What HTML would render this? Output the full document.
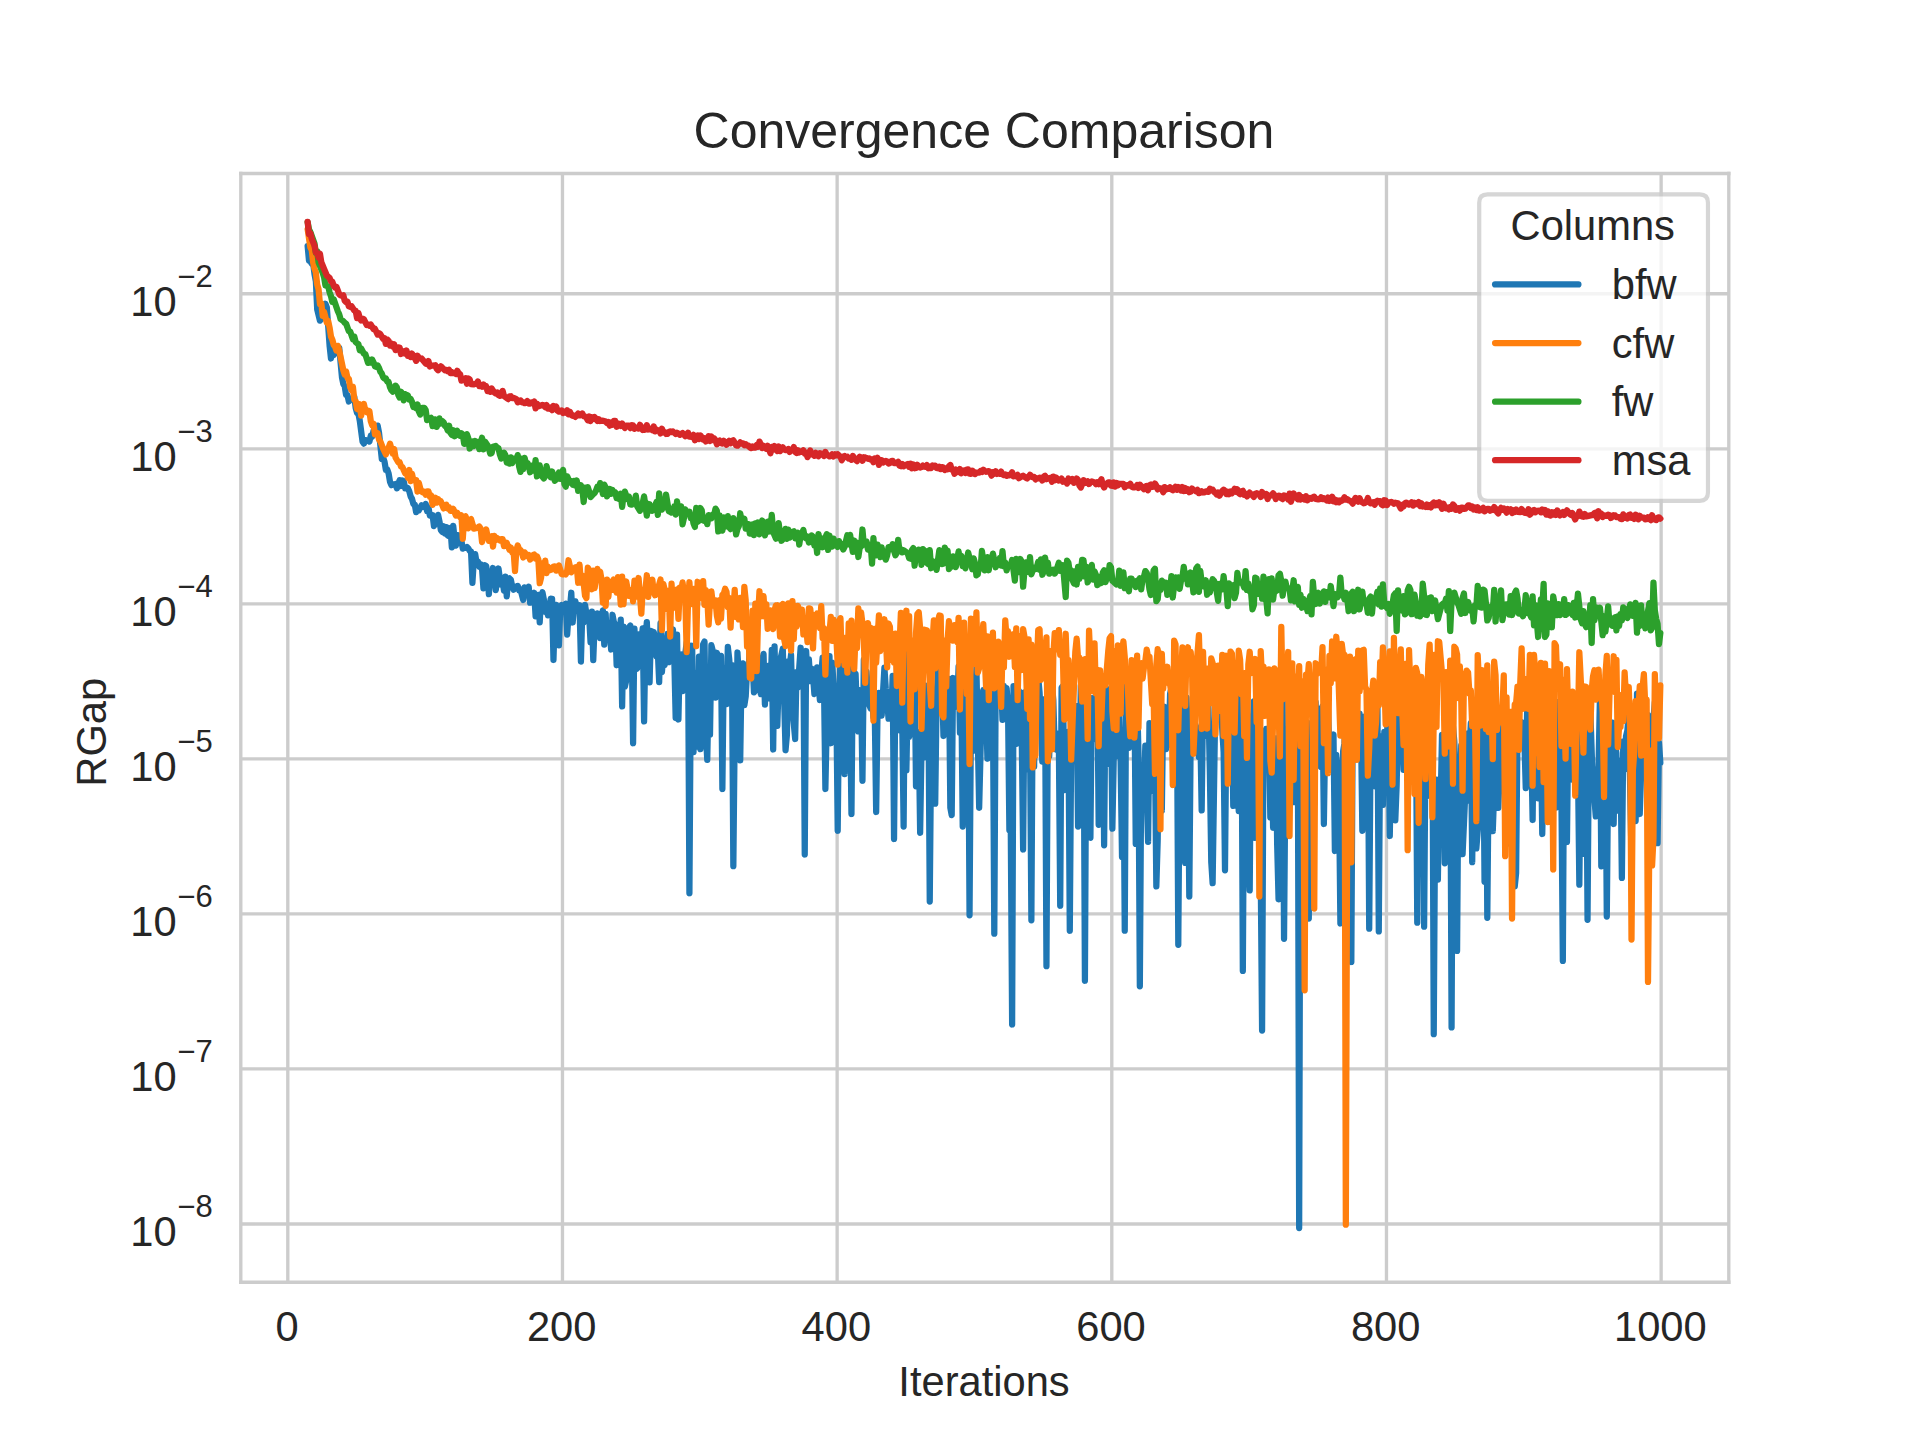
<!DOCTYPE html>
<html><head><meta charset="utf-8"><title>Convergence Comparison</title>
<style>html,body{margin:0;padding:0;background:#fff;width:1920px;height:1440px;overflow:hidden}svg{display:block}</style>
</head><body>
<svg width="1920" height="1440" viewBox="0 0 460.8 345.6">
<defs>
<style type="text/css">*{stroke-linejoin: round; stroke-linecap: butt}</style>
</defs>
<g id="figure_1">
<g id="patch_1">
<path d="M 0 345.6 L 460.8 345.6 L 460.8 0 L 0 0 z
" style="fill: #ffffff"/>
</g>
<g id="axes_1">
<g id="patch_2">
<path d="M 57.6 307.58 L 414.72 307.58 L 414.72 41.47 L 57.6 41.47 z
" style="fill: #ffffff"/>
</g>
<g id="matplotlib.axis_1">
<g id="xtick_1">
<g id="line2d_1">
<path transform="translate(0.192 0.168)" d="M 68.88 307.58 L 68.88 41.47 " clip-path="url(#p02d3b5d28d)" style="fill: none; stroke: #cccccc; stroke-width: 0.8; stroke-linecap: round"/>
</g>
<g id="text_1">
<text style="font-size: 10px; font-family: 'Liberation Sans', sans-serif; text-anchor: middle; fill: #262626" x="68.88" y="321.83" transform="rotate(-0 68.88 321.83)">0</text>
</g>
</g>
<g id="xtick_2">
<g id="line2d_2">
<path transform="translate(0.192 0.168)" d="M 134.80 307.58 L 134.80 41.47 " clip-path="url(#p02d3b5d28d)" style="fill: none; stroke: #cccccc; stroke-width: 0.8; stroke-linecap: round"/>
</g>
<g id="text_2">
<text style="font-size: 10px; font-family: 'Liberation Sans', sans-serif; text-anchor: middle; fill: #262626" x="134.80" y="321.83" transform="rotate(-0 134.80 321.83)">200</text>
</g>
</g>
<g id="xtick_3">
<g id="line2d_3">
<path transform="translate(0.192 0.168)" d="M 200.72 307.58 L 200.72 41.47 " clip-path="url(#p02d3b5d28d)" style="fill: none; stroke: #cccccc; stroke-width: 0.8; stroke-linecap: round"/>
</g>
<g id="text_3">
<text style="font-size: 10px; font-family: 'Liberation Sans', sans-serif; text-anchor: middle; fill: #262626" x="200.72" y="321.83" transform="rotate(-0 200.72 321.83)">400</text>
</g>
</g>
<g id="xtick_4">
<g id="line2d_4">
<path transform="translate(0.192 0.168)" d="M 266.64 307.58 L 266.64 41.47 " clip-path="url(#p02d3b5d28d)" style="fill: none; stroke: #cccccc; stroke-width: 0.8; stroke-linecap: round"/>
</g>
<g id="text_4">
<text style="font-size: 10px; font-family: 'Liberation Sans', sans-serif; text-anchor: middle; fill: #262626" x="266.64" y="321.83" transform="rotate(-0 266.64 321.83)">600</text>
</g>
</g>
<g id="xtick_5">
<g id="line2d_5">
<path transform="translate(0.192 0.168)" d="M 332.56 307.58 L 332.56 41.47 " clip-path="url(#p02d3b5d28d)" style="fill: none; stroke: #cccccc; stroke-width: 0.8; stroke-linecap: round"/>
</g>
<g id="text_5">
<text style="font-size: 10px; font-family: 'Liberation Sans', sans-serif; text-anchor: middle; fill: #262626" x="332.56" y="321.83" transform="rotate(-0 332.56 321.83)">800</text>
</g>
</g>
<g id="xtick_6">
<g id="line2d_6">
<path transform="translate(0.192 0.168)" d="M 398.48 307.58 L 398.48 41.47 " clip-path="url(#p02d3b5d28d)" style="fill: none; stroke: #cccccc; stroke-width: 0.8; stroke-linecap: round"/>
</g>
<g id="text_6">
<text style="font-size: 10px; font-family: 'Liberation Sans', sans-serif; text-anchor: middle; fill: #262626" x="398.48" y="321.83" transform="rotate(-0 398.48 321.83)">1000</text>
</g>
</g>
<g id="text_7">
<text style="font-size: 10px; font-family: 'Liberation Sans', sans-serif; text-anchor: middle; fill: #262626" x="236.16" y="335.15" transform="rotate(-0 236.16 335.15)">Iterations</text>
</g>
</g>
<g id="matplotlib.axis_2">
<g id="ytick_1">
<g id="line2d_7">
<path transform="translate(0.192 0.168)" d="M 57.6 293.59 L 414.72 293.59 " clip-path="url(#p02d3b5d28d)" style="fill: none; stroke: #cccccc; stroke-width: 0.8; stroke-linecap: round"/>
</g>
</g>
<g id="ytick_2">
<g id="line2d_8">
<path transform="translate(0.192 0.168)" d="M 57.6 256.38 L 414.72 256.38 " clip-path="url(#p02d3b5d28d)" style="fill: none; stroke: #cccccc; stroke-width: 0.8; stroke-linecap: round"/>
</g>
</g>
<g id="ytick_3">
<g id="line2d_9">
<path transform="translate(0.192 0.168)" d="M 57.6 219.17 L 414.72 219.17 " clip-path="url(#p02d3b5d28d)" style="fill: none; stroke: #cccccc; stroke-width: 0.8; stroke-linecap: round"/>
</g>
</g>
<g id="ytick_4">
<g id="line2d_10">
<path transform="translate(0.192 0.168)" d="M 57.6 181.96 L 414.72 181.96 " clip-path="url(#p02d3b5d28d)" style="fill: none; stroke: #cccccc; stroke-width: 0.8; stroke-linecap: round"/>
</g>
</g>
<g id="ytick_5">
<g id="line2d_11">
<path transform="translate(0.192 0.168)" d="M 57.6 144.76 L 414.72 144.76 " clip-path="url(#p02d3b5d28d)" style="fill: none; stroke: #cccccc; stroke-width: 0.8; stroke-linecap: round"/>
</g>
</g>
<g id="ytick_6">
<g id="line2d_12">
<path transform="translate(0.192 0.168)" d="M 57.6 107.55 L 414.72 107.55 " clip-path="url(#p02d3b5d28d)" style="fill: none; stroke: #cccccc; stroke-width: 0.8; stroke-linecap: round"/>
</g>
</g>
<g id="ytick_7">
<g id="line2d_13">
<path transform="translate(0.192 0.168)" d="M 57.6 70.34 L 414.72 70.34 " clip-path="url(#p02d3b5d28d)" style="fill: none; stroke: #cccccc; stroke-width: 0.8; stroke-linecap: round"/>
</g>
</g>
<g id="ytick_8"/>
<g id="ytick_9"/>
<g id="ytick_10"/>
<g id="ytick_11"/>
<g id="ytick_12"/>
<g id="ytick_13"/>
<g id="ytick_14"/>
<g id="ytick_15"/>
<g id="ytick_16"/>
<g id="ytick_17"/>
<g id="ytick_18"/>
<g id="ytick_19"/>
<g id="ytick_20"/>
<g id="ytick_21"/>
<g id="ytick_22"/>
<g id="ytick_23"/>
<g id="ytick_24"/>
<g id="ytick_25"/>
<g id="ytick_26"/>
<g id="ytick_27"/>
<g id="ytick_28"/>
<g id="ytick_29"/>
<g id="ytick_30"/>
<g id="ytick_31"/>
<g id="ytick_32"/>
<g id="ytick_33"/>
<g id="ytick_34"/>
<g id="ytick_35"/>
<g id="ytick_36"/>
<g id="ytick_37"/>
<g id="ytick_38"/>
<g id="ytick_39"/>
<g id="ytick_40"/>
<g id="ytick_41"/>
<g id="ytick_42"/>
<g id="ytick_43"/>
<g id="ytick_44"/>
<g id="ytick_45"/>
<g id="ytick_46"/>
<g id="ytick_47"/>
<g id="ytick_48"/>
<g id="ytick_49"/>
<g id="ytick_50"/>
<g id="ytick_51"/>
<g id="ytick_52"/>
<g id="ytick_53"/>
<g id="ytick_54"/>
<g id="ytick_55"/>
<g id="ytick_56"/>
<g id="ytick_57"/>
<g id="ytick_58"/>
<g id="ytick_59"/>
<g id="ytick_60"/>
<g id="ytick_61"/>
<g id="ytick_62"/>
<g id="ytick_63"/>
<g id="ytick_64"/>
<g id="text_8">
<text style="font-size: 10px; font-family: 'Liberation Sans', sans-serif; text-anchor: middle; fill: #262626" x="25.505" y="175.728" transform="rotate(-90 25.505 175.728)">RGap</text>
</g>
</g>
<g id="line2d_14">
<path d="M 73.83 59.04 L 74.16 62.58 L 74.49 62.74 L 74.82 63.30 L 75.15 63.15 L 75.48 65.81 L 75.81 67.54 L 76.13 74.30 L 76.79 76.96 L 77.45 75.84 L 77.78 76.31 L 78.11 72.90 L 78.44 73.77 L 79.10 82.95 L 79.43 86.04 L 79.76 84.05 L 80.09 85.21 L 80.42 84.63 L 81.08 84.01 L 81.41 83.43 L 82.07 90.56 L 82.40 92.18 L 82.73 92.68 L 83.06 94.78 L 83.39 94.83 L 83.72 96.36 L 84.05 95.91 L 84.37 95.86 L 85.03 95.23 L 85.36 97.91 L 85.69 99.13 L 86.02 99.27 L 86.35 100.99 L 87.01 106.00 L 87.34 106.46 L 87.67 105.58 L 88.00 105.85 L 88.33 105.69 L 88.66 105.97 L 88.99 104.58 L 89.32 104.79 L 89.65 103.40 L 89.98 103.18 L 90.31 103.38 L 90.64 102.15 L 90.97 103.88 L 91.63 110.14 L 91.96 109.85 L 92.29 110.84 L 92.61 112.77 L 92.94 112.67 L 93.27 113.62 L 93.60 115.63 L 93.93 116.44 L 94.26 116.23 L 94.59 116.34 L 94.92 116.18 L 95.25 117.21 L 95.91 115.27 L 96.24 116.63 L 96.57 115.33 L 96.90 115.51 L 97.23 117.22 L 97.56 116.98 L 97.89 117.18 L 98.22 117.90 L 98.55 119.13 L 98.88 119.73 L 99.21 120.97 L 99.54 121.06 L 99.87 122.91 L 100.20 122.17 L 100.53 122.47 L 101.18 121.27 L 101.51 121.66 L 101.84 121.69 L 102.17 120.94 L 102.50 122.65 L 102.83 121.77 L 103.16 123.73 L 103.49 123.57 L 103.82 123.61 L 104.15 126.26 L 104.48 125.50 L 104.81 125.34 L 105.14 123.57 L 105.47 125.12 L 105.80 127.22 L 106.13 127.64 L 106.46 126.28 L 106.79 128.05 L 107.12 126.50 L 107.45 128.51 L 107.78 128.68 L 108.11 126.70 L 108.44 131.36 L 108.77 126.22 L 109.09 129.20 L 109.42 130.94 L 109.75 128.41 L 110.08 128.47 L 110.41 128.75 L 110.74 129.81 L 111.07 131.67 L 111.40 131.40 L 111.73 131.50 L 112.06 131.26 L 112.39 131.60 L 112.72 132.21 L 113.05 132.37 L 113.38 139.89 L 113.71 134.53 L 114.04 132.99 L 114.37 135.02 L 114.70 134.79 L 115.03 136.02 L 115.36 135.44 L 115.69 136.52 L 116.02 141.19 L 116.35 135.63 L 116.68 135.81 L 117.01 137.95 L 117.33 142.60 L 117.66 137.47 L 117.99 139.59 L 118.32 136.32 L 118.65 138.06 L 118.98 141.62 L 119.64 136.44 L 119.97 138.90 L 120.30 140.34 L 120.63 139.51 L 120.96 141.78 L 121.29 138.41 L 121.62 143.12 L 121.95 139.14 L 122.28 138.82 L 122.61 139.14 L 122.94 140.78 L 123.27 141.54 L 123.60 140.95 L 124.26 140.62 L 124.59 141.67 L 124.92 141.48 L 125.57 143.99 L 125.90 140.97 L 126.23 142.01 L 126.56 141.75 L 126.89 140.80 L 127.22 144.65 L 127.55 144.55 L 127.88 144.18 L 128.21 142.25 L 128.54 147.91 L 129.20 142.75 L 129.53 149.35 L 129.86 143.15 L 130.19 142.14 L 130.52 143.85 L 130.85 146.83 L 131.18 145.88 L 131.51 147.68 L 132.17 143.69 L 132.50 143.71 L 132.83 158.40 L 133.16 147.72 L 133.49 145.15 L 133.81 146.76 L 134.14 154.90 L 134.47 145.72 L 134.80 145.21 L 135.13 146.41 L 135.46 146.68 L 135.79 144.86 L 136.12 152.30 L 136.45 147.63 L 136.78 146.11 L 137.11 142.26 L 137.44 149.40 L 137.77 145.70 L 138.10 144.33 L 138.43 145.92 L 138.76 145.83 L 139.09 145.27 L 139.42 158.77 L 139.75 146.80 L 140.08 149.41 L 140.41 145.18 L 140.74 147.26 L 141.40 148.06 L 141.73 154.15 L 142.05 146.78 L 142.38 158.45 L 142.71 149.79 L 143.04 150.48 L 143.37 147.23 L 143.70 149.66 L 144.03 153.13 L 144.36 148.29 L 144.69 146.48 L 145.02 154.73 L 145.35 147.31 L 145.68 153.15 L 146.01 151.54 L 146.34 151.61 L 146.67 155.88 L 147.00 147.54 L 147.33 149.31 L 147.66 149.86 L 147.99 159.66 L 148.32 150.00 L 148.65 156.07 L 148.98 148.72 L 149.31 169.53 L 149.64 150.39 L 149.96 164.81 L 150.29 163.33 L 150.62 152.20 L 150.95 150.59 L 151.28 150.11 L 151.61 154.99 L 151.94 178.38 L 152.27 150.89 L 152.60 160.61 L 152.93 160.43 L 153.26 152.26 L 153.59 152.58 L 153.92 153.90 L 154.25 150.80 L 154.58 173.15 L 154.91 152.99 L 155.24 149.29 L 155.90 163.76 L 156.23 151.42 L 156.56 153.27 L 156.89 151.67 L 157.22 153.04 L 157.55 157.50 L 157.88 156.46 L 158.20 163.71 L 158.53 149.53 L 158.86 161.30 L 159.19 157.57 L 159.52 159.64 L 159.85 154.64 L 160.18 152.16 L 160.51 158.93 L 160.84 154.93 L 161.17 154.16 L 161.50 151.02 L 161.83 157.89 L 162.16 172.32 L 162.49 152.33 L 162.82 172.68 L 163.15 157.37 L 163.48 157.07 L 163.81 165.87 L 164.14 158.60 L 164.47 156.89 L 164.80 154.17 L 165.13 154.80 L 165.46 214.38 L 165.79 164.58 L 166.12 154.98 L 166.44 180.54 L 166.77 161.48 L 167.10 168.00 L 167.43 179.21 L 167.76 157.57 L 168.09 179.79 L 168.42 162.63 L 168.75 154.67 L 169.08 153.98 L 169.41 176.15 L 169.74 182.38 L 170.07 165.47 L 170.40 176.33 L 170.73 154.84 L 171.39 157.44 L 171.72 167.42 L 172.05 156.66 L 172.38 158.81 L 172.71 159.89 L 173.04 157.43 L 173.37 189.36 L 173.70 160.26 L 174.03 162.38 L 174.36 169.01 L 174.68 155.26 L 175.01 158.10 L 175.34 162.86 L 175.67 159.65 L 176.00 207.89 L 176.33 175.54 L 176.66 181.71 L 176.99 156.60 L 177.32 162.28 L 177.65 182.49 L 177.98 160.61 L 178.31 159.20 L 178.64 169.24 L 178.97 167.16 L 179.30 160.85 L 179.63 161.45 L 179.96 155.18 L 180.29 156.32 L 180.62 158.97 L 180.95 166.18 L 181.28 165.72 L 181.61 164.75 L 181.94 161.93 L 182.60 166.58 L 182.92 158.56 L 183.25 156.94 L 183.58 169.11 L 183.91 159.94 L 184.24 159.83 L 184.57 166.60 L 184.90 167.74 L 185.23 155.98 L 185.56 179.88 L 185.89 155.11 L 186.22 168.68 L 186.55 174.22 L 186.88 164.04 L 187.21 158.63 L 187.87 155.67 L 188.53 180.06 L 188.86 176.40 L 189.19 158.73 L 189.52 159.98 L 189.85 157.14 L 190.18 170.10 L 190.84 177.36 L 191.16 161.34 L 191.49 164.99 L 192.15 155.46 L 192.48 162.10 L 192.81 156.64 L 193.14 205.08 L 193.47 156.24 L 193.80 162.21 L 194.13 158.24 L 194.46 163.46 L 194.79 160.44 L 195.12 162.20 L 195.45 166.57 L 196.11 160.18 L 196.77 168.00 L 197.10 161.52 L 197.43 157.84 L 197.76 164.39 L 198.09 189.36 L 198.42 173.45 L 199.08 157.45 L 199.40 178.38 L 199.73 159.02 L 200.39 170.52 L 200.72 168.79 L 201.05 199.38 L 201.38 168.21 L 201.71 158.51 L 202.04 156.71 L 202.37 174.48 L 202.70 185.81 L 203.03 170.86 L 203.36 161.77 L 203.69 175.60 L 204.02 170.83 L 204.35 195.36 L 204.68 158.83 L 205.01 161.40 L 205.34 161.71 L 205.67 170.99 L 206.00 175.54 L 206.33 165.61 L 206.66 166.14 L 206.99 187.38 L 207.32 158.32 L 207.64 161.65 L 207.97 161.18 L 208.30 166.51 L 208.63 169.21 L 208.96 170.04 L 209.29 166.48 L 209.62 172.12 L 209.95 171.67 L 210.28 194.88 L 210.61 170.51 L 210.94 166.30 L 211.60 171.74 L 212.26 160.24 L 212.59 165.36 L 212.92 168.14 L 213.25 172.49 L 213.58 166.05 L 213.91 171.68 L 214.24 162.19 L 214.57 201.36 L 214.90 162.57 L 215.23 174.32 L 215.56 174.53 L 215.88 175.24 L 216.21 161.61 L 216.54 173.45 L 216.87 198.38 L 217.20 156.63 L 217.53 184.91 L 217.86 167.38 L 218.19 176.88 L 218.52 175.00 L 218.85 163.76 L 219.18 170.23 L 219.51 158.48 L 219.84 188.72 L 220.17 177.10 L 220.50 175.68 L 220.83 199.87 L 221.16 179.90 L 221.49 168.91 L 221.82 181.76 L 222.15 164.52 L 222.48 176.67 L 222.81 167.04 L 223.14 216.38 L 223.47 179.59 L 223.80 167.80 L 224.12 167.92 L 224.45 192.89 L 224.78 168.12 L 225.11 160.10 L 225.44 166.96 L 225.77 164.92 L 226.10 164.35 L 226.43 176.64 L 226.76 163.30 L 227.09 165.87 L 227.42 174.03 L 227.75 162.95 L 228.08 193.87 L 228.41 195.64 L 228.74 162.72 L 229.07 163.20 L 229.40 165.78 L 229.73 169.56 L 230.06 159.94 L 230.39 175.93 L 230.72 166.63 L 231.05 198.38 L 231.38 170.38 L 231.71 165.08 L 232.04 196.50 L 232.36 165.01 L 232.69 219.67 L 233.02 172.40 L 233.35 180.34 L 233.68 177.30 L 234.34 160.11 L 235.00 193.87 L 235.66 167.08 L 235.99 165.62 L 236.32 166.60 L 236.65 169.86 L 236.98 182.10 L 237.31 163.13 L 237.64 173.26 L 237.97 166.61 L 238.30 168.90 L 238.63 224.09 L 238.96 164.39 L 239.29 168.58 L 239.62 159.68 L 240.27 164.08 L 240.60 172.75 L 240.93 164.61 L 241.26 167.30 L 241.59 165.16 L 241.92 169.36 L 242.25 199.24 L 242.58 198.24 L 242.91 245.88 L 243.24 164.68 L 243.90 178.55 L 244.56 165.89 L 244.89 176.46 L 245.22 177.26 L 245.55 203.88 L 245.88 166.15 L 246.21 184.63 L 246.54 175.40 L 246.87 171.05 L 247.20 176.26 L 247.53 220.87 L 247.86 165.49 L 248.19 183.98 L 248.51 160.02 L 248.84 168.25 L 249.17 162.62 L 249.50 166.21 L 249.83 172.84 L 250.16 182.77 L 250.49 169.39 L 250.82 167.72 L 251.15 231.89 L 251.48 171.56 L 251.81 181.50 L 252.14 168.22 L 252.47 164.30 L 252.80 168.04 L 253.13 179.71 L 253.46 179.90 L 253.79 176.06 L 254.12 177.61 L 254.45 217.38 L 254.78 165.06 L 255.11 164.63 L 255.44 189.61 L 256.10 177.38 L 256.43 175.59 L 256.75 223.38 L 257.08 179.91 L 257.41 170.63 L 257.74 170.83 L 258.07 175.30 L 258.40 169.45 L 258.73 198.37 L 259.06 190.49 L 259.39 164.57 L 259.72 178.06 L 260.05 166.74 L 260.38 235.38 L 260.71 170.03 L 261.04 169.31 L 261.70 201.07 L 262.03 167.53 L 262.36 177.51 L 262.69 177.05 L 263.02 166.39 L 263.35 163.14 L 263.68 197.95 L 264.01 172.51 L 264.34 186.08 L 264.67 166.23 L 264.99 202.87 L 265.32 165.86 L 265.65 183.42 L 265.98 168.57 L 266.31 165.37 L 266.64 169.32 L 266.97 198.89 L 267.30 181.91 L 267.63 181.63 L 267.96 167.86 L 268.29 167.96 L 268.62 171.62 L 268.95 182.92 L 269.28 205.66 L 269.61 176.44 L 269.94 223.37 L 270.27 164.29 L 270.60 168.00 L 270.93 179.49 L 271.26 172.17 L 271.59 174.93 L 271.92 171.31 L 272.25 165.27 L 272.58 202.55 L 272.91 167.63 L 273.23 180.53 L 273.56 236.71 L 273.89 186.93 L 274.22 184.96 L 274.55 189.10 L 274.88 178.95 L 275.54 202.06 L 275.87 173.55 L 276.20 181.22 L 276.53 182.51 L 276.86 189.91 L 277.19 180.21 L 277.52 212.74 L 277.85 201.66 L 278.18 165.79 L 278.51 173.62 L 278.84 194.56 L 279.17 170.37 L 279.50 169.62 L 279.83 179.77 L 280.16 172.23 L 280.49 178.78 L 280.82 166.48 L 281.15 165.03 L 281.47 175.47 L 281.80 175.93 L 282.13 169.69 L 282.46 168.74 L 282.79 226.75 L 283.12 182.43 L 283.45 164.40 L 283.78 173.72 L 284.11 178.20 L 284.44 207.09 L 284.77 167.44 L 285.10 178.16 L 285.43 215.16 L 285.76 177.20 L 286.09 178.90 L 286.42 169.88 L 286.75 173.59 L 287.08 174.45 L 287.41 178.95 L 287.74 181.69 L 288.07 175.34 L 288.40 194.50 L 288.73 168.28 L 289.06 173.87 L 289.39 176.59 L 289.71 164.75 L 290.04 170.12 L 290.37 185.50 L 290.70 206.92 L 291.03 211.97 L 291.69 167.64 L 292.02 170.52 L 292.68 168.81 L 293.01 169.68 L 293.67 180.52 L 294.00 208.87 L 294.33 172.27 L 294.66 174.71 L 294.99 165.67 L 295.32 167.93 L 295.65 167.66 L 295.98 193.43 L 296.31 178.03 L 296.64 169.46 L 296.97 187.17 L 297.30 194.67 L 297.63 165.90 L 297.95 164.80 L 298.28 233.04 L 298.61 178.21 L 298.94 183.77 L 299.27 173.42 L 299.60 202.30 L 299.93 213.70 L 300.26 171.96 L 300.59 175.01 L 300.92 168.32 L 301.25 201.09 L 301.91 167.52 L 302.24 171.43 L 302.90 247.34 L 303.23 177.73 L 303.89 174.92 L 304.22 180.75 L 304.55 177.08 L 304.88 196.17 L 305.21 179.32 L 305.54 198.67 L 305.87 182.04 L 306.19 177.20 L 306.52 202.71 L 306.85 215.83 L 307.18 173.20 L 307.51 175.04 L 307.84 166.49 L 308.17 225.31 L 308.50 185.24 L 308.83 183.25 L 309.16 199.70 L 309.49 180.52 L 309.82 167.90 L 310.15 172.60 L 310.48 192.51 L 310.81 167.02 L 311.14 172.56 L 311.47 172.00 L 311.80 294.72 L 312.13 171.39 L 312.46 172.83 L 312.79 209.55 L 313.12 179.24 L 313.45 173.61 L 313.78 173.40 L 314.11 220.46 L 314.43 179.57 L 314.76 174.22 L 315.09 178.70 L 315.42 193.10 L 315.75 168.51 L 316.08 183.79 L 316.41 170.08 L 316.74 180.13 L 317.07 184.05 L 317.40 169.55 L 317.73 197.76 L 318.06 175.34 L 318.39 174.00 L 318.72 170.24 L 319.05 179.83 L 319.38 178.82 L 319.71 177.02 L 320.04 176.31 L 320.37 204.24 L 320.70 181.19 L 321.03 184.79 L 321.36 190.15 L 321.69 221.64 L 322.02 210.10 L 322.35 180.31 L 322.67 178.37 L 323.00 166.34 L 323.33 183.78 L 323.66 183.39 L 323.99 184.65 L 324.32 230.88 L 324.65 172.41 L 324.98 182.31 L 325.31 166.80 L 325.64 178.23 L 325.97 180.50 L 326.30 171.29 L 326.63 174.30 L 326.96 199.39 L 327.29 179.32 L 327.62 171.95 L 327.95 173.96 L 328.28 168.54 L 328.61 222.89 L 328.94 178.21 L 329.27 178.49 L 329.60 174.10 L 329.93 188.70 L 330.26 175.41 L 330.58 167.70 L 330.91 223.56 L 331.24 176.64 L 331.57 190.29 L 331.90 193.19 L 332.23 175.66 L 332.56 186.98 L 332.89 175.93 L 333.22 169.92 L 333.55 200.64 L 333.88 181.41 L 334.21 171.74 L 334.54 180.67 L 334.87 196.90 L 335.20 188.44 L 335.53 172.17 L 335.86 173.27 L 336.19 177.56 L 336.52 174.43 L 336.85 184.79 L 337.18 173.80 L 337.51 177.64 L 337.84 183.96 L 338.50 180.68 L 339.15 178.17 L 339.48 185.93 L 339.81 169.62 L 340.14 221.45 L 340.47 169.94 L 341.13 191.11 L 341.46 168.42 L 341.79 222.41 L 342.12 179.07 L 342.45 191.08 L 342.78 174.62 L 343.11 174.51 L 343.44 169.30 L 343.77 170.77 L 344.10 248.21 L 344.43 195.55 L 344.76 187.11 L 345.09 211.14 L 345.42 187.78 L 345.75 192.87 L 346.08 176.38 L 346.41 178.27 L 346.74 207.19 L 347.06 176.94 L 347.39 173.76 L 347.72 181.28 L 348.05 173.08 L 348.38 246.58 L 348.71 174.25 L 349.04 177.98 L 349.37 187.08 L 349.70 228.22 L 350.03 182.63 L 350.36 196.34 L 350.69 178.91 L 351.02 204.99 L 351.68 190.18 L 352.01 176.05 L 352.34 192.16 L 352.67 179.77 L 353.00 173.55 L 353.33 206.91 L 353.66 180.34 L 353.99 174.88 L 354.32 203.61 L 354.98 195.40 L 355.30 174.86 L 355.63 174.63 L 355.96 172.63 L 356.29 211.62 L 356.62 166.83 L 356.95 220.27 L 357.28 185.33 L 357.61 187.91 L 357.94 176.67 L 358.27 199.47 L 359.26 170.85 L 359.59 193.90 L 359.92 185.39 L 360.25 180.05 L 360.58 185.69 L 360.91 170.12 L 361.24 178.15 L 361.57 175.91 L 361.90 192.64 L 362.23 202.46 L 362.56 191.55 L 362.89 198.81 L 363.22 195.10 L 363.54 212.74 L 363.87 209.52 L 364.20 175.08 L 364.53 173.43 L 364.86 176.76 L 365.19 173.30 L 365.52 173.83 L 365.85 177.66 L 366.18 189.16 L 366.51 170.69 L 366.84 176.77 L 367.17 185.71 L 367.50 179.87 L 367.83 196.80 L 368.16 168.94 L 368.49 186.98 L 368.82 177.25 L 369.15 191.62 L 369.48 177.35 L 369.81 176.54 L 370.14 200.16 L 370.80 169.79 L 371.13 171.83 L 371.46 175.41 L 371.78 191.76 L 372.11 175.69 L 372.44 178.31 L 372.77 172.54 L 373.10 174.78 L 373.43 193.84 L 373.76 174.57 L 374.09 168.43 L 374.42 174.75 L 374.75 192.32 L 375.08 230.62 L 375.41 172.21 L 375.74 170.81 L 376.07 202.08 L 376.40 171.61 L 376.73 168.92 L 377.06 169.73 L 377.39 187.14 L 378.05 170.19 L 378.38 173.01 L 378.71 183.81 L 379.04 212.31 L 379.37 179.47 L 379.70 205.01 L 380.02 203.63 L 380.35 180.81 L 380.68 170.55 L 381.01 220.75 L 381.34 177.12 L 381.67 170.13 L 382.33 190.32 L 382.66 191.62 L 382.99 195.95 L 383.32 186.22 L 383.65 183.90 L 383.98 167.48 L 384.31 207.91 L 384.64 167.05 L 384.97 199.79 L 385.30 173.62 L 385.63 219.98 L 385.96 184.09 L 386.29 174.42 L 386.62 192.99 L 386.95 173.40 L 387.28 197.76 L 387.61 178.41 L 387.94 180.75 L 388.26 194.56 L 388.59 182.57 L 388.92 182.77 L 389.25 210.70 L 389.58 177.95 L 389.91 184.64 L 390.24 176.67 L 390.57 175.31 L 390.90 171.30 L 391.56 205.79 L 391.89 170.24 L 392.22 172.81 L 392.55 197.05 L 392.88 166.47 L 393.21 171.72 L 393.54 195.36 L 394.20 175.63 L 394.53 184.76 L 394.86 180.14 L 395.19 177.94 L 395.52 171.65 L 395.85 177.49 L 396.18 198.04 L 396.50 194.86 L 396.83 172.68 L 397.16 168.57 L 397.49 169.43 L 397.82 202.35 L 398.15 178.22 L 398.48 183.07 L 398.48 183.07 " clip-path="url(#p02d3b5d28d)" style="fill: none; stroke: #1f77b4; stroke-width: 1.5; stroke-linecap: round"/>
</g>
<g id="line2d_15">
<path d="M 73.83 54.96 L 74.49 59.40 L 74.82 60.03 L 75.15 62.98 L 75.48 64.50 L 75.81 65.41 L 76.13 68.28 L 76.46 69.47 L 76.79 72.97 L 77.12 72.86 L 77.45 75.79 L 77.78 74.87 L 78.44 77.43 L 78.77 77.07 L 79.10 78.61 L 79.43 80.74 L 79.76 81.52 L 80.09 82.76 L 80.42 83.23 L 80.75 84.15 L 81.08 83.00 L 81.41 84.09 L 82.40 88.86 L 82.73 89.89 L 83.06 89.15 L 83.39 90.70 L 83.72 90.92 L 84.05 93.00 L 84.37 93.66 L 84.70 92.81 L 85.03 95.91 L 85.36 96.27 L 85.69 98.16 L 86.02 98.27 L 86.35 97.00 L 86.68 99.76 L 87.01 97.90 L 87.34 96.97 L 87.67 98.50 L 88.00 98.93 L 88.33 98.54 L 88.66 98.68 L 88.99 101.11 L 89.32 102.04 L 89.65 101.69 L 89.98 104.26 L 90.31 103.90 L 90.64 103.93 L 90.97 105.50 L 91.30 106.01 L 91.96 107.68 L 92.61 109.05 L 92.94 107.93 L 93.27 107.45 L 93.60 106.48 L 94.26 108.86 L 94.59 107.74 L 94.92 109.80 L 95.58 110.94 L 95.91 110.92 L 96.24 111.95 L 96.57 112.06 L 97.23 113.55 L 97.56 113.46 L 97.89 114.66 L 98.22 112.80 L 98.55 115.47 L 98.88 113.74 L 99.21 115.24 L 99.87 115.21 L 100.20 117.97 L 100.53 115.91 L 100.85 117.19 L 101.18 117.96 L 101.51 118.17 L 101.84 118.02 L 102.17 118.74 L 102.50 117.93 L 102.83 117.92 L 103.16 119.23 L 103.49 118.95 L 103.82 121.18 L 104.15 120.01 L 104.48 119.45 L 104.81 120.64 L 105.14 119.78 L 105.47 120.48 L 105.80 120.32 L 106.46 122.02 L 106.79 121.26 L 107.12 121.14 L 107.45 122.03 L 107.78 121.77 L 108.11 122.63 L 108.44 122.63 L 108.77 122.11 L 109.42 123.72 L 109.75 123.08 L 110.41 124.11 L 110.74 123.69 L 111.07 129.30 L 111.40 124.19 L 111.73 123.92 L 112.06 124.79 L 112.39 126.81 L 112.72 124.77 L 113.05 124.58 L 113.71 126.87 L 114.70 126.64 L 115.03 126.35 L 115.36 126.86 L 115.69 130.09 L 116.02 127.84 L 116.35 127.94 L 116.68 127.06 L 117.01 128.71 L 117.33 129.79 L 117.66 128.92 L 117.99 128.70 L 118.32 131.18 L 118.65 128.60 L 118.98 129.61 L 119.31 129.14 L 119.97 129.71 L 120.30 129.37 L 120.63 129.40 L 120.96 131.06 L 121.29 130.94 L 121.62 130.27 L 122.28 131.95 L 122.61 131.43 L 122.94 132.60 L 123.27 132.34 L 123.60 137.04 L 123.93 132.01 L 124.26 130.91 L 124.59 131.81 L 124.92 131.98 L 125.25 132.57 L 125.57 133.79 L 125.90 132.57 L 126.56 133.48 L 126.89 133.23 L 127.22 134.31 L 127.55 133.63 L 127.88 133.26 L 128.21 133.09 L 128.54 134.04 L 128.87 133.51 L 129.20 134.28 L 129.53 139.97 L 129.86 138.64 L 130.19 135.16 L 130.52 136.77 L 130.85 134.54 L 131.18 137.53 L 131.51 136.00 L 132.17 136.79 L 132.50 136.66 L 132.83 135.96 L 133.16 135.93 L 133.49 136.96 L 133.81 136.06 L 134.14 135.73 L 134.80 137.75 L 135.13 137.86 L 135.46 137.62 L 135.79 137.84 L 136.12 136.98 L 136.45 134.46 L 137.11 137.38 L 137.44 136.73 L 137.77 136.84 L 138.10 136.16 L 138.43 136.09 L 138.76 139.86 L 139.09 135.51 L 139.42 139.84 L 139.75 138.15 L 140.08 140.02 L 140.41 142.99 L 140.74 143.56 L 141.07 136.25 L 141.40 136.81 L 141.73 140.96 L 142.05 141.43 L 142.38 136.95 L 142.71 141.16 L 143.37 136.52 L 143.70 138.06 L 144.03 137.20 L 144.36 139.01 L 144.69 144.61 L 145.02 141.36 L 145.35 145.39 L 145.68 139.09 L 146.01 143.29 L 146.34 139.57 L 146.67 140.97 L 147.00 141.56 L 147.33 139.08 L 147.66 141.14 L 147.99 142.21 L 148.32 138.50 L 148.65 140.37 L 148.98 145.10 L 149.31 138.37 L 149.64 145.01 L 149.96 140.08 L 150.29 139.58 L 150.95 143.00 L 151.28 141.60 L 151.61 141.74 L 151.94 144.32 L 152.27 139.36 L 152.60 142.69 L 152.93 143.17 L 153.26 138.72 L 153.92 147.27 L 154.25 141.60 L 154.58 141.48 L 154.91 141.50 L 155.24 138.06 L 155.57 143.26 L 155.90 139.19 L 156.23 140.00 L 156.56 139.12 L 156.89 142.19 L 157.22 142.86 L 157.55 142.59 L 158.53 139.09 L 158.86 151.23 L 159.19 140.11 L 159.52 141.51 L 159.85 142.34 L 160.18 146.16 L 160.51 141.74 L 160.84 152.77 L 161.17 140.08 L 161.50 145.98 L 161.83 143.11 L 162.16 143.29 L 162.49 141.48 L 162.82 148.55 L 163.15 141.01 L 163.48 141.94 L 163.81 139.78 L 164.14 142.28 L 164.47 143.48 L 164.80 156.53 L 165.13 144.34 L 165.46 139.74 L 165.79 144.75 L 166.12 144.95 L 166.44 143.78 L 166.77 141.30 L 167.10 155.10 L 167.43 139.62 L 167.76 141.96 L 168.09 141.70 L 168.42 143.62 L 168.75 139.45 L 169.08 145.16 L 169.41 141.60 L 169.74 143.43 L 170.07 149.89 L 170.40 144.25 L 170.73 141.94 L 171.06 144.83 L 171.39 145.38 L 171.72 144.08 L 172.05 147.74 L 172.38 149.38 L 172.71 144.03 L 173.04 148.45 L 173.37 142.77 L 173.70 142.49 L 174.03 141.29 L 174.36 142.01 L 174.68 145.68 L 175.01 143.51 L 175.34 150.65 L 175.67 143.61 L 176.00 146.93 L 176.33 141.57 L 176.66 148.10 L 176.99 144.64 L 177.32 148.66 L 177.65 143.48 L 177.98 143.51 L 178.31 150.50 L 178.64 140.83 L 178.97 144.08 L 179.30 155.17 L 179.63 150.21 L 179.96 162.70 L 180.29 162.82 L 180.62 146.55 L 180.95 160.14 L 181.28 144.88 L 181.61 161.09 L 181.94 147.89 L 182.27 141.90 L 182.60 147.94 L 182.92 146.67 L 183.25 143.08 L 183.58 147.99 L 183.91 145.00 L 184.24 150.91 L 184.90 146.51 L 185.23 147.02 L 185.56 150.97 L 185.89 146.40 L 186.22 145.30 L 186.55 145.26 L 186.88 147.29 L 187.21 152.79 L 187.54 145.34 L 187.87 144.95 L 188.20 153.45 L 188.53 155.07 L 188.86 148.68 L 189.19 144.81 L 189.52 145.25 L 189.85 156.16 L 190.18 144.28 L 190.51 153.39 L 190.84 145.38 L 191.16 150.40 L 191.49 145.39 L 191.82 146.77 L 192.15 149.65 L 192.48 146.30 L 192.81 152.27 L 193.14 150.66 L 193.47 150.40 L 193.80 154.09 L 194.13 146.02 L 194.46 146.08 L 194.79 149.22 L 195.12 155.61 L 195.45 147.65 L 195.78 148.34 L 196.11 147.25 L 196.44 149.64 L 196.77 150.71 L 197.10 145.45 L 197.43 153.16 L 197.76 150.76 L 198.09 161.93 L 198.42 151.92 L 198.75 152.65 L 199.08 151.87 L 199.40 148.06 L 199.73 153.79 L 200.06 148.73 L 200.39 152.43 L 200.72 152.94 L 201.05 159.50 L 201.38 149.04 L 201.71 148.36 L 202.04 158.43 L 202.37 154.47 L 202.70 159.63 L 203.03 153.03 L 203.36 161.42 L 203.69 149.62 L 204.02 151.92 L 204.35 148.97 L 204.68 157.78 L 205.01 160.59 L 205.34 152.00 L 205.67 155.53 L 206.00 146.00 L 206.33 150.71 L 206.66 146.97 L 206.99 149.67 L 207.32 153.81 L 207.64 163.87 L 207.97 153.37 L 208.30 149.53 L 208.63 151.76 L 208.96 150.71 L 209.29 150.85 L 209.62 172.96 L 209.95 150.95 L 210.28 159.00 L 210.94 147.70 L 211.27 156.27 L 211.60 154.17 L 212.26 148.62 L 212.59 152.43 L 212.92 160.16 L 213.25 149.64 L 213.58 150.41 L 213.91 158.34 L 214.24 152.68 L 214.57 159.00 L 214.90 152.07 L 215.23 164.65 L 215.56 163.08 L 216.21 147.11 L 216.54 168.63 L 216.87 151.56 L 217.20 150.27 L 217.53 146.58 L 217.86 155.60 L 218.19 147.84 L 218.52 173.17 L 218.85 153.67 L 219.18 156.18 L 219.51 165.43 L 219.84 151.93 L 220.17 147.34 L 220.50 146.94 L 220.83 150.71 L 221.16 174.91 L 221.82 151.10 L 222.48 151.33 L 222.81 155.73 L 223.14 164.16 L 223.47 169.38 L 223.80 154.25 L 224.12 148.88 L 224.45 160.41 L 224.78 150.59 L 225.44 147.71 L 225.77 147.78 L 226.10 171.43 L 226.43 172.15 L 226.76 153.70 L 227.09 164.81 L 227.42 153.55 L 227.75 149.09 L 228.08 152.25 L 228.41 150.40 L 228.74 153.75 L 229.07 150.04 L 229.40 153.44 L 229.73 154.09 L 230.06 148.27 L 230.39 170.29 L 230.72 152.39 L 231.05 159.45 L 231.38 149.41 L 232.04 166.62 L 232.36 157.00 L 232.69 183.36 L 233.02 148.48 L 233.35 152.95 L 233.68 159.31 L 234.01 155.32 L 234.34 146.99 L 234.67 161.42 L 235.00 160.33 L 235.33 155.04 L 235.66 152.94 L 235.99 149.78 L 236.65 164.83 L 236.98 152.74 L 237.31 168.03 L 237.64 154.23 L 237.97 155.24 L 238.30 151.82 L 238.63 165.20 L 238.96 164.66 L 239.29 154.84 L 239.62 154.02 L 239.95 160.39 L 240.27 169.65 L 240.60 155.70 L 240.93 160.18 L 241.26 148.87 L 241.59 153.24 L 241.92 151.46 L 242.25 157.62 L 242.58 156.53 L 242.91 156.35 L 243.24 152.21 L 243.57 160.12 L 243.90 150.80 L 244.23 168.03 L 244.56 152.58 L 244.89 155.76 L 245.22 160.80 L 245.55 150.97 L 245.88 152.81 L 246.21 159.07 L 246.54 170.16 L 246.87 153.47 L 247.20 172.52 L 247.53 154.71 L 247.86 184.19 L 248.19 179.37 L 248.51 181.39 L 248.84 159.60 L 249.17 151.22 L 249.50 151.05 L 249.83 163.15 L 250.49 158.83 L 250.82 156.39 L 251.15 152.96 L 251.48 182.71 L 251.81 177.72 L 252.14 156.25 L 252.47 179.88 L 252.80 157.28 L 253.13 151.96 L 253.46 155.87 L 253.79 154.94 L 254.12 151.23 L 254.45 157.15 L 254.78 154.98 L 255.11 158.38 L 255.44 172.72 L 255.77 152.10 L 256.10 161.97 L 256.43 158.43 L 256.75 165.61 L 257.08 182.30 L 258.07 156.42 L 258.40 153.27 L 258.73 157.94 L 259.06 157.85 L 259.72 168.36 L 260.05 160.52 L 260.38 158.20 L 260.71 160.53 L 261.04 177.36 L 261.37 151.36 L 261.70 158.98 L 262.03 157.57 L 262.36 165.89 L 262.69 154.43 L 263.02 166.50 L 263.35 160.79 L 263.68 179.07 L 264.01 160.87 L 264.34 172.55 L 264.67 163.53 L 264.99 162.29 L 265.32 164.45 L 265.98 156.22 L 266.31 153.16 L 266.64 152.68 L 266.97 170.71 L 267.30 174.82 L 267.63 156.22 L 267.96 175.19 L 268.29 154.87 L 268.62 155.16 L 268.95 171.28 L 269.28 156.30 L 269.61 153.92 L 269.94 157.71 L 270.27 163.52 L 270.60 162.18 L 270.93 171.60 L 271.26 176.70 L 271.59 158.43 L 271.92 163.01 L 272.25 177.04 L 272.58 171.18 L 272.91 157.37 L 273.23 174.71 L 273.56 159.30 L 273.89 159.19 L 274.22 162.88 L 274.55 160.18 L 274.88 158.63 L 275.21 155.89 L 275.54 157.76 L 275.87 157.60 L 276.53 169.00 L 276.86 166.25 L 277.19 185.72 L 277.52 159.53 L 277.85 155.81 L 278.18 158.93 L 278.51 199.01 L 278.84 156.90 L 279.17 165.25 L 279.50 160.18 L 279.83 162.64 L 280.16 160.02 L 280.49 163.96 L 280.82 164.29 L 281.15 166.50 L 281.47 188.40 L 281.80 153.74 L 282.13 154.64 L 282.46 173.99 L 282.79 175.26 L 283.12 161.88 L 283.45 161.98 L 283.78 155.37 L 284.44 169.43 L 284.77 156.18 L 285.10 155.35 L 285.43 161.14 L 285.76 156.43 L 286.09 160.57 L 286.42 180.90 L 286.75 174.04 L 287.08 160.85 L 287.74 152.43 L 288.40 174.96 L 288.73 156.45 L 289.06 167.05 L 289.39 163.25 L 289.71 174.85 L 290.04 160.42 L 290.37 168.82 L 290.70 158.00 L 291.36 160.27 L 291.69 176.26 L 292.35 159.75 L 292.68 170.63 L 293.01 168.44 L 293.34 157.16 L 293.67 176.65 L 294.33 157.38 L 294.66 188.09 L 294.99 162.15 L 295.32 156.38 L 295.65 156.85 L 296.31 175.82 L 296.64 159.44 L 296.97 165.14 L 297.30 156.17 L 297.63 158.40 L 297.95 166.68 L 298.28 161.73 L 298.61 176.69 L 298.94 161.49 L 299.27 181.90 L 299.60 159.42 L 299.93 156.42 L 300.26 161.54 L 300.92 161.04 L 301.25 158.16 L 301.58 173.34 L 301.91 167.22 L 302.24 215.16 L 302.57 156.27 L 302.90 163.10 L 303.23 159.96 L 303.56 171.79 L 303.89 163.40 L 304.22 170.19 L 304.55 160.63 L 304.88 182.64 L 305.21 185.42 L 305.87 160.42 L 306.19 161.08 L 306.85 169.75 L 307.18 181.58 L 307.51 150.43 L 307.84 167.82 L 308.17 159.93 L 308.50 162.22 L 308.83 163.51 L 309.16 156.48 L 309.49 200.64 L 309.82 171.24 L 310.15 159.20 L 310.48 187.15 L 310.81 162.31 L 311.14 164.23 L 311.47 168.50 L 311.80 159.87 L 312.13 179.06 L 312.46 163.45 L 312.79 173.74 L 313.12 237.67 L 313.45 161.89 L 313.78 163.67 L 314.11 159.40 L 314.43 164.73 L 314.76 166.85 L 315.09 177.74 L 315.42 218.06 L 315.75 159.18 L 316.08 161.75 L 316.41 160.77 L 316.74 160.46 L 317.07 161.50 L 317.40 155.29 L 317.73 178.37 L 318.06 160.70 L 318.39 162.88 L 318.72 185.55 L 319.05 157.42 L 319.38 163.93 L 319.71 153.96 L 320.04 160.34 L 320.37 162.81 L 320.70 152.82 L 321.03 156.50 L 321.69 176.56 L 322.02 154.51 L 322.35 157.18 L 322.67 157.19 L 323.00 293.93 L 323.33 195.13 L 323.99 157.58 L 324.32 206.95 L 324.65 160.32 L 324.98 158.76 L 325.31 158.20 L 325.64 182.35 L 325.97 156.16 L 326.30 165.96 L 326.63 162.40 L 326.96 156.09 L 327.29 155.95 L 327.62 164.75 L 327.95 165.50 L 328.28 186.17 L 328.61 179.79 L 328.94 169.31 L 329.60 163.37 L 329.93 176.56 L 330.26 173.34 L 330.58 166.19 L 330.91 169.31 L 331.24 158.92 L 331.57 165.02 L 331.90 155.39 L 332.23 162.33 L 332.56 173.85 L 332.89 160.36 L 333.22 166.62 L 333.55 156.33 L 333.88 164.13 L 334.21 188.30 L 334.54 153.11 L 334.87 170.12 L 335.20 161.10 L 335.53 171.16 L 335.86 161.04 L 336.19 155.84 L 336.52 169.84 L 336.85 178.82 L 337.18 162.64 L 337.51 159.26 L 337.84 204.05 L 338.17 156.03 L 338.82 174.61 L 339.15 161.48 L 339.48 190.56 L 339.81 160.27 L 340.14 161.58 L 340.47 197.47 L 340.80 166.74 L 341.13 162.46 L 341.46 165.28 L 341.79 172.71 L 342.12 187.01 L 342.78 159.46 L 343.11 154.69 L 343.44 164.81 L 343.77 196.13 L 344.10 171.79 L 344.43 157.13 L 344.76 174.48 L 345.09 153.90 L 345.42 154.06 L 346.08 161.55 L 346.41 162.12 L 346.74 180.87 L 347.06 161.33 L 347.39 165.12 L 347.72 179.16 L 348.05 158.54 L 348.38 162.41 L 348.71 188.09 L 349.04 155.22 L 349.37 155.68 L 349.70 157.05 L 350.03 167.57 L 350.36 159.90 L 350.69 166.94 L 351.02 189.77 L 351.35 161.69 L 351.68 164.98 L 352.01 160.97 L 352.34 161.38 L 352.67 166.47 L 353.00 165.70 L 353.33 174.29 L 353.66 169.64 L 353.99 171.74 L 354.32 197.07 L 354.65 157.22 L 354.98 164.18 L 355.30 174.18 L 355.63 160.82 L 355.96 169.18 L 356.29 164.79 L 356.62 174.97 L 356.95 159.70 L 357.28 175.71 L 357.61 167.62 L 357.94 167.68 L 358.27 182.18 L 358.60 158.78 L 358.93 162.00 L 359.26 175.18 L 359.59 171.04 L 359.92 170.63 L 360.25 173.34 L 360.58 170.15 L 360.91 162.10 L 361.24 205.49 L 361.57 167.36 L 361.90 195.71 L 362.23 176.24 L 362.56 170.87 L 362.89 220.46 L 363.22 177.55 L 363.54 169.06 L 363.87 168.69 L 364.20 164.78 L 364.53 179.96 L 364.86 163.75 L 365.19 155.61 L 365.52 170.11 L 365.85 163.47 L 366.18 169.96 L 366.51 162.96 L 366.84 170.12 L 367.17 157.15 L 367.50 164.72 L 367.83 188.57 L 368.16 157.19 L 368.49 161.58 L 368.82 180.74 L 369.15 160.03 L 369.48 184.08 L 369.81 159.09 L 370.14 170.10 L 370.47 187.72 L 370.80 159.28 L 371.13 170.14 L 371.46 197.29 L 371.78 161.09 L 372.11 177.66 L 372.44 165.84 L 372.77 208.68 L 373.10 154.37 L 373.43 154.97 L 373.76 164.02 L 374.09 162.18 L 374.42 159.43 L 374.75 179.04 L 375.08 163.10 L 375.41 170.60 L 375.74 182.09 L 376.07 160.57 L 376.40 172.72 L 377.06 178.52 L 377.39 165.97 L 377.72 170.40 L 378.05 190.96 L 378.38 174.89 L 378.71 173.27 L 379.04 156.54 L 379.70 169.21 L 380.02 180.66 L 380.35 164.76 L 380.68 164.82 L 381.01 167.81 L 381.34 173.54 L 381.67 175.10 L 382.00 165.78 L 382.33 162.27 L 382.66 160.87 L 382.99 167.89 L 383.32 160.86 L 383.65 160.75 L 383.98 166.84 L 384.31 165.43 L 384.64 171.04 L 384.97 191.28 L 385.30 161.92 L 385.63 157.39 L 385.96 178.72 L 386.29 166.32 L 386.62 161.34 L 386.95 165.71 L 387.28 157.50 L 387.61 166.11 L 387.94 158.34 L 388.26 179.28 L 388.59 174.26 L 388.92 174.50 L 389.25 166.77 L 389.58 173.07 L 389.91 161.38 L 390.24 167.13 L 390.57 170.52 L 390.90 164.88 L 391.23 174.45 L 391.56 225.50 L 391.89 184.93 L 392.22 180.56 L 392.55 168.30 L 392.88 169.09 L 393.21 170.18 L 393.54 164.67 L 393.87 181.34 L 394.20 165.12 L 394.53 161.77 L 394.86 169.21 L 395.19 167.91 L 395.52 235.66 L 395.85 201.18 L 396.18 180.15 L 396.50 207.72 L 396.83 201.23 L 397.16 161.79 L 397.49 173.20 L 397.82 173.82 L 398.15 177.19 L 398.48 164.48 L 398.48 164.48 " clip-path="url(#p02d3b5d28d)" style="fill: none; stroke: #ff7f0e; stroke-width: 1.5; stroke-linecap: round"/>
</g>
<g id="line2d_16">
<path d="M 73.83 53.29 L 74.16 55.06 L 74.49 55.72 L 75.48 58.43 L 75.81 60.70 L 76.13 60.30 L 76.46 62.96 L 77.45 65.47 L 77.78 66.54 L 78.11 68.54 L 78.77 68.71 L 79.10 70.14 L 79.43 71.07 L 79.76 72.46 L 80.09 71.81 L 81.08 74.70 L 81.41 75.42 L 81.74 76.57 L 82.40 77.07 L 82.73 77.47 L 83.06 77.66 L 83.72 79.49 L 84.05 79.56 L 84.70 81.43 L 85.03 80.78 L 85.36 82.10 L 86.02 82.62 L 86.35 84.06 L 86.68 83.63 L 87.34 84.89 L 87.67 84.96 L 88.33 87.10 L 88.66 86.34 L 88.99 87.02 L 89.32 86.30 L 89.65 86.97 L 89.98 87.90 L 90.31 88.03 L 90.64 87.71 L 90.97 88.31 L 91.30 89.24 L 91.63 89.65 L 91.96 90.54 L 92.29 90.89 L 92.61 90.80 L 92.94 91.60 L 93.27 91.66 L 93.60 92.93 L 93.93 93.64 L 94.26 93.99 L 94.59 93.46 L 94.92 92.56 L 95.25 92.94 L 95.58 94.74 L 95.91 95.41 L 96.24 94.01 L 96.57 94.51 L 96.90 96.10 L 97.23 94.58 L 97.56 95.49 L 97.89 94.89 L 98.22 95.90 L 98.55 95.75 L 98.88 96.44 L 99.21 97.69 L 99.54 97.40 L 99.87 98.00 L 100.20 97.07 L 100.53 98.78 L 100.85 99.49 L 101.18 97.98 L 101.51 97.87 L 101.84 97.88 L 102.17 98.43 L 102.50 100.83 L 102.83 100.42 L 103.16 100.53 L 103.49 100.30 L 103.82 102.29 L 104.15 100.69 L 104.48 100.64 L 104.81 102.47 L 105.14 101.16 L 105.47 100.43 L 105.80 101.63 L 106.13 101.03 L 106.46 101.33 L 106.79 102.22 L 107.12 102.40 L 107.45 103.32 L 107.78 102.16 L 108.11 103.92 L 108.44 104.36 L 108.77 103.27 L 109.09 104.71 L 109.42 103.83 L 109.75 103.42 L 110.08 104.45 L 110.41 104.58 L 110.74 103.99 L 111.07 104.29 L 111.40 106.53 L 111.73 106.48 L 112.06 104.19 L 112.39 105.20 L 112.72 107.64 L 113.05 107.11 L 113.38 105.97 L 113.71 107.05 L 114.04 105.83 L 114.37 106.33 L 114.70 106.08 L 115.03 107.80 L 115.69 105.07 L 116.02 107.85 L 116.35 105.95 L 117.01 106.86 L 117.33 107.68 L 117.66 108.88 L 117.99 108.73 L 118.32 107.24 L 118.98 107.04 L 119.31 107.42 L 119.64 107.60 L 119.97 109.10 L 120.30 110.04 L 120.63 108.78 L 120.96 108.63 L 121.29 109.21 L 121.62 111.00 L 121.95 110.14 L 122.28 111.28 L 122.61 109.76 L 122.94 111.15 L 123.27 110.39 L 123.60 110.03 L 123.93 110.37 L 124.26 109.23 L 124.59 111.97 L 124.92 113.26 L 125.25 110.10 L 125.57 112.57 L 125.90 109.87 L 126.23 111.23 L 126.56 111.10 L 126.89 111.68 L 127.22 113.35 L 127.55 112.71 L 127.88 111.70 L 128.21 113.00 L 128.54 110.43 L 128.87 114.33 L 129.20 113.26 L 129.53 111.70 L 129.86 113.72 L 130.19 114.44 L 130.52 114.83 L 130.85 114.26 L 131.18 111.89 L 131.51 113.25 L 131.84 113.26 L 132.17 114.56 L 132.50 113.15 L 133.16 115.40 L 133.49 115.00 L 133.81 114.38 L 134.14 113.39 L 134.47 114.93 L 134.80 114.40 L 135.13 112.77 L 135.46 116.15 L 135.79 116.79 L 136.12 114.32 L 136.78 115.81 L 137.11 115.51 L 137.44 116.32 L 137.77 115.44 L 138.10 116.56 L 138.43 115.33 L 138.76 117.79 L 139.09 117.49 L 139.42 116.48 L 139.75 117.30 L 140.08 120.48 L 140.41 117.01 L 140.74 117.73 L 141.07 116.93 L 141.40 117.94 L 141.73 119.31 L 142.38 118.61 L 142.71 118.31 L 143.04 117.72 L 143.37 116.82 L 143.70 117.37 L 144.03 115.94 L 144.36 116.65 L 144.69 118.56 L 145.02 116.33 L 145.35 117.00 L 145.68 119.15 L 146.34 117.35 L 146.67 118.51 L 147.00 117.61 L 147.33 118.48 L 147.66 118.16 L 147.99 119.56 L 148.32 118.74 L 148.65 119.78 L 148.98 118.51 L 149.31 121.67 L 149.64 119.11 L 149.96 117.99 L 150.62 119.82 L 150.95 119.15 L 151.28 121.06 L 151.61 121.12 L 151.94 120.57 L 152.27 120.82 L 152.60 118.96 L 152.93 121.52 L 153.59 122.60 L 154.25 120.68 L 154.58 119.14 L 155.24 123.77 L 155.57 120.95 L 155.90 121.04 L 156.23 122.56 L 156.56 122.59 L 156.89 122.20 L 157.55 120.49 L 157.88 123.55 L 158.20 118.40 L 158.53 121.72 L 158.86 122.27 L 159.19 120.89 L 159.52 121.77 L 159.85 118.71 L 160.51 122.69 L 160.84 122.80 L 161.17 123.04 L 161.50 122.90 L 161.83 121.54 L 162.16 123.50 L 162.49 120.35 L 162.82 122.86 L 163.15 123.03 L 163.48 121.53 L 163.81 125.85 L 164.14 124.42 L 164.47 122.27 L 164.80 123.20 L 165.13 123.32 L 165.46 122.80 L 165.79 124.34 L 166.12 123.78 L 166.44 125.62 L 166.77 126.46 L 167.10 121.89 L 167.43 125.23 L 167.76 124.99 L 168.09 121.92 L 168.42 122.49 L 168.75 124.94 L 169.08 125.02 L 169.41 124.42 L 169.74 125.80 L 170.07 123.63 L 170.40 124.31 L 170.73 124.41 L 171.06 123.55 L 171.39 123.67 L 171.72 122.06 L 172.05 122.62 L 172.38 127.54 L 172.71 123.69 L 173.04 126.80 L 173.37 127.34 L 173.70 124.19 L 174.03 126.39 L 174.36 125.88 L 174.68 123.86 L 175.01 126.55 L 175.34 126.98 L 175.67 125.20 L 176.00 124.38 L 176.33 125.03 L 176.66 128.26 L 176.99 126.96 L 177.32 126.27 L 177.65 123.18 L 177.98 124.82 L 178.31 124.96 L 178.64 124.49 L 178.97 126.86 L 179.30 125.73 L 179.63 125.78 L 179.96 128.09 L 180.29 126.69 L 180.62 125.87 L 180.95 128.45 L 181.28 125.63 L 181.61 126.88 L 181.94 125.40 L 182.27 128.23 L 182.60 126.94 L 182.92 124.92 L 183.25 126.00 L 183.58 128.49 L 184.24 125.20 L 184.57 127.56 L 184.90 126.91 L 185.23 123.59 L 185.56 127.67 L 186.22 129.28 L 186.55 128.80 L 186.88 125.54 L 187.21 128.11 L 187.54 129.79 L 187.87 129.45 L 188.53 126.93 L 188.86 129.33 L 189.19 127.12 L 189.52 129.05 L 189.85 127.79 L 190.51 127.50 L 190.84 129.18 L 191.16 128.83 L 191.49 127.83 L 191.82 130.70 L 192.15 128.46 L 192.48 127.98 L 192.81 127.20 L 193.14 128.95 L 193.47 129.24 L 193.80 128.78 L 194.13 130.21 L 194.79 128.52 L 195.12 128.78 L 195.45 130.92 L 195.78 129.84 L 196.11 132.72 L 196.44 128.17 L 196.77 130.33 L 197.10 129.16 L 197.43 131.34 L 197.76 129.78 L 198.42 128.20 L 198.75 131.97 L 199.08 128.52 L 199.40 130.17 L 199.73 131.19 L 200.06 129.25 L 200.39 130.53 L 200.72 130.59 L 201.05 131.29 L 201.38 129.86 L 201.71 130.92 L 202.04 130.60 L 202.37 131.90 L 202.70 131.24 L 203.36 128.47 L 203.69 130.62 L 204.02 128.35 L 204.68 132.47 L 205.01 129.76 L 205.34 132.37 L 205.67 130.22 L 206.00 133.68 L 206.33 131.46 L 206.66 131.16 L 206.99 127.08 L 207.32 130.72 L 207.64 130.73 L 207.97 129.94 L 208.30 131.89 L 208.63 131.44 L 208.96 130.73 L 209.29 135.27 L 209.62 129.15 L 209.95 133.22 L 210.28 133.29 L 210.61 130.71 L 210.94 131.59 L 211.27 133.71 L 211.60 131.38 L 211.93 133.63 L 212.26 132.95 L 212.59 134.32 L 212.92 133.26 L 213.25 131.31 L 213.58 131.80 L 213.91 131.54 L 214.24 130.59 L 214.57 132.21 L 214.90 133.27 L 215.23 132.69 L 215.56 129.58 L 215.88 132.27 L 216.21 131.84 L 216.54 132.57 L 216.87 132.06 L 217.53 132.56 L 217.86 132.85 L 218.19 133.93 L 218.52 134.08 L 218.85 132.06 L 219.18 131.54 L 219.51 135.76 L 219.84 132.78 L 220.17 134.28 L 220.50 131.92 L 220.83 132.00 L 221.16 135.55 L 221.49 131.78 L 221.82 132.19 L 222.15 132.27 L 222.48 135.12 L 222.81 135.43 L 223.14 132.04 L 223.47 136.38 L 223.80 134.66 L 224.12 135.30 L 224.45 135.22 L 224.78 136.76 L 225.44 132.04 L 225.77 132.98 L 226.10 135.38 L 226.43 135.30 L 226.76 131.43 L 227.09 133.01 L 227.42 132.18 L 227.75 136.58 L 228.08 136.07 L 228.41 135.99 L 228.74 133.53 L 229.07 133.83 L 229.40 136.10 L 230.06 132.34 L 230.39 134.86 L 230.72 133.38 L 231.05 135.88 L 231.38 135.61 L 231.71 136.39 L 232.36 132.59 L 232.69 133.91 L 233.02 134.69 L 233.35 136.62 L 233.68 134.02 L 234.01 135.22 L 234.34 138.09 L 234.67 137.84 L 235.00 135.52 L 235.33 136.51 L 235.66 132.22 L 236.32 136.89 L 236.65 135.99 L 236.98 133.72 L 237.31 136.86 L 237.64 133.97 L 237.97 134.58 L 238.30 132.86 L 238.96 136.15 L 239.29 134.60 L 239.62 135.43 L 239.95 133.91 L 240.27 135.73 L 240.60 132.27 L 240.93 135.87 L 241.26 134.98 L 241.59 136.90 L 241.92 135.60 L 242.25 135.81 L 242.58 135.60 L 242.91 134.38 L 243.57 139.33 L 243.90 134.13 L 244.23 136.57 L 244.56 137.27 L 244.89 134.16 L 245.22 134.85 L 245.55 140.81 L 245.88 136.92 L 246.21 134.95 L 246.54 134.90 L 246.87 137.27 L 247.20 133.70 L 247.53 137.83 L 247.86 136.89 L 248.19 136.31 L 248.51 136.57 L 248.84 136.11 L 249.17 134.86 L 249.50 136.75 L 249.83 134.27 L 250.16 137.94 L 250.49 137.16 L 250.82 133.82 L 251.15 136.69 L 251.48 135.03 L 251.81 137.68 L 252.47 137.19 L 252.80 136.74 L 253.13 137.67 L 253.46 137.08 L 254.12 135.06 L 254.45 137.02 L 254.78 136.11 L 255.11 135.68 L 255.77 143.28 L 256.10 134.54 L 256.43 135.10 L 256.75 137.36 L 257.08 136.88 L 257.41 139.20 L 257.74 140.02 L 258.07 137.05 L 258.40 140.28 L 258.73 136.06 L 259.06 138.92 L 259.39 137.24 L 259.72 134.35 L 260.05 134.47 L 260.38 138.34 L 260.71 136.00 L 261.04 139.77 L 261.37 139.01 L 262.03 135.57 L 262.36 139.10 L 262.69 137.14 L 263.02 137.97 L 263.35 140.44 L 263.68 138.46 L 264.01 140.03 L 264.34 139.89 L 264.67 137.42 L 264.99 136.87 L 265.32 139.72 L 265.65 138.61 L 265.98 138.26 L 266.31 135.62 L 266.64 136.17 L 266.97 139.40 L 267.30 139.66 L 267.96 140.30 L 268.29 140.13 L 268.62 136.94 L 268.95 140.58 L 269.28 139.95 L 269.61 137.36 L 269.94 141.15 L 270.27 139.48 L 270.93 141.91 L 271.26 138.89 L 271.59 138.88 L 271.92 139.79 L 272.25 140.04 L 272.58 140.91 L 272.91 139.39 L 273.23 140.28 L 273.56 138.77 L 273.89 141.45 L 274.22 138.86 L 274.55 138.37 L 274.88 137.07 L 275.21 137.45 L 275.54 139.05 L 275.87 141.43 L 276.20 142.82 L 276.86 136.93 L 277.19 136.51 L 277.52 144.26 L 277.85 143.80 L 278.18 140.30 L 278.51 141.60 L 278.84 139.37 L 279.17 139.67 L 279.50 140.73 L 279.83 139.87 L 280.16 142.78 L 280.49 141.66 L 280.82 141.55 L 281.15 138.26 L 281.47 143.40 L 281.80 140.38 L 282.13 138.57 L 282.46 140.14 L 282.79 138.56 L 283.12 141.31 L 283.45 139.32 L 283.78 138.48 L 284.11 136.03 L 284.44 138.86 L 284.77 137.58 L 285.10 140.25 L 285.43 140.12 L 285.76 137.40 L 286.09 139.26 L 286.42 142.19 L 287.08 136.47 L 287.41 136.00 L 287.74 142.06 L 288.07 137.03 L 288.40 139.73 L 288.73 139.68 L 289.06 140.82 L 289.39 139.27 L 289.71 142.74 L 290.04 142.05 L 290.37 142.15 L 290.70 140.19 L 291.03 139.02 L 291.36 139.40 L 291.69 140.12 L 292.35 144.19 L 292.68 140.13 L 293.01 140.64 L 293.34 141.43 L 293.67 138.27 L 294.00 141.35 L 294.33 141.41 L 294.66 145.45 L 294.99 140.02 L 295.32 141.58 L 295.65 142.54 L 295.98 140.43 L 296.31 143.54 L 296.64 142.25 L 296.97 137.51 L 297.30 139.85 L 297.63 139.54 L 298.28 140.14 L 298.61 141.02 L 298.94 137.05 L 299.27 141.59 L 299.60 140.07 L 299.93 141.92 L 300.26 142.20 L 300.59 146.23 L 300.92 145.28 L 301.25 138.65 L 301.58 138.79 L 301.91 142.51 L 302.24 141.76 L 302.57 140.55 L 302.90 143.67 L 303.23 138.38 L 303.56 143.82 L 303.89 143.64 L 304.22 147.20 L 304.55 138.98 L 304.88 141.81 L 305.21 138.82 L 305.54 143.92 L 305.87 141.35 L 306.19 141.89 L 306.52 141.68 L 306.85 138.07 L 307.18 137.72 L 307.51 139.47 L 307.84 142.95 L 308.17 140.46 L 308.50 139.61 L 308.83 141.17 L 309.16 141.17 L 309.49 141.37 L 309.82 144.08 L 310.48 139.26 L 310.81 144.35 L 311.47 140.83 L 311.80 145.15 L 312.13 142.78 L 312.46 145.86 L 312.79 143.75 L 313.12 145.35 L 313.45 144.38 L 313.78 146.65 L 314.11 144.31 L 314.43 143.11 L 314.76 147.45 L 315.09 139.64 L 315.42 143.33 L 315.75 144.97 L 316.08 144.08 L 316.41 142.26 L 316.74 144.87 L 317.07 143.73 L 317.40 143.87 L 317.73 141.91 L 318.06 144.47 L 318.39 142.13 L 318.72 142.36 L 319.05 143.37 L 319.38 140.64 L 320.04 145.48 L 320.37 142.58 L 321.03 143.30 L 321.36 142.79 L 321.69 138.61 L 322.02 142.83 L 322.35 142.41 L 322.67 143.84 L 323.00 142.27 L 323.33 143.51 L 323.66 146.66 L 323.99 145.88 L 324.32 142.42 L 324.65 142.01 L 324.98 146.69 L 325.31 144.99 L 325.64 145.60 L 325.97 141.54 L 326.30 146.26 L 326.63 144.46 L 326.96 142.00 L 327.29 144.76 L 327.62 144.62 L 327.95 144.83 L 328.28 147.07 L 328.61 143.70 L 328.94 143.20 L 329.27 147.25 L 329.60 143.66 L 329.93 144.17 L 330.26 143.49 L 330.58 142.03 L 330.91 145.07 L 331.24 141.22 L 331.57 145.59 L 331.90 140.23 L 332.23 144.96 L 332.89 145.91 L 333.22 144.95 L 333.55 147.31 L 333.88 145.54 L 334.21 144.83 L 334.54 142.83 L 334.87 142.40 L 335.20 151.44 L 335.53 141.71 L 335.86 146.26 L 336.19 146.34 L 336.52 146.56 L 336.85 143.05 L 337.18 147.44 L 337.51 147.15 L 337.84 141.71 L 338.17 140.84 L 338.50 141.61 L 338.82 147.41 L 339.15 144.35 L 339.48 142.69 L 339.81 144.67 L 340.14 147.73 L 340.47 145.14 L 340.80 147.93 L 341.13 146.99 L 341.46 140.07 L 341.79 143.10 L 342.12 147.52 L 342.45 147.60 L 342.78 143.60 L 343.11 145.80 L 343.44 143.38 L 343.77 146.69 L 344.10 145.01 L 344.43 144.12 L 345.09 148.59 L 345.75 146.11 L 346.08 145.10 L 346.41 144.82 L 346.74 144.85 L 347.06 143.66 L 347.39 146.58 L 347.72 141.87 L 348.05 151.44 L 348.38 144.12 L 348.71 144.41 L 349.04 142.22 L 349.70 144.45 L 350.03 145.20 L 350.69 147.31 L 351.02 143.51 L 351.35 142.44 L 351.68 147.12 L 352.01 145.08 L 352.34 144.49 L 352.67 145.85 L 353.00 146.56 L 353.33 145.81 L 353.66 149.12 L 353.99 145.28 L 354.32 145.64 L 354.65 140.62 L 355.30 145.79 L 355.63 145.82 L 355.96 141.50 L 356.29 141.74 L 356.62 144.74 L 356.95 148.91 L 357.28 148.28 L 357.61 145.85 L 357.94 145.53 L 358.27 146.74 L 358.60 141.56 L 358.93 149.16 L 359.26 145.52 L 359.59 144.39 L 359.92 144.34 L 360.25 141.71 L 360.58 148.85 L 361.24 145.10 L 361.57 145.04 L 362.23 147.51 L 362.56 143.09 L 362.89 147.60 L 363.22 146.77 L 363.54 142.35 L 363.87 141.73 L 364.20 143.58 L 364.53 147.26 L 364.86 147.26 L 365.19 147.37 L 365.52 147.89 L 365.85 146.40 L 366.18 142.84 L 366.84 147.22 L 367.17 147.30 L 367.50 148.19 L 367.83 143.14 L 368.16 150.06 L 368.49 145.20 L 369.15 152.88 L 369.48 149.07 L 369.81 143.86 L 370.14 146.13 L 370.47 140.12 L 370.80 152.88 L 371.13 152.32 L 371.46 144.83 L 371.78 144.93 L 372.11 146.77 L 372.44 150.54 L 372.77 143.13 L 373.10 145.05 L 373.43 145.45 L 373.76 147.62 L 374.09 145.00 L 374.42 147.62 L 374.75 146.36 L 375.08 146.89 L 375.41 143.80 L 375.74 147.57 L 376.07 147.33 L 376.40 145.25 L 376.73 146.17 L 377.06 146.73 L 377.39 147.59 L 377.72 144.70 L 378.05 148.20 L 378.38 145.81 L 378.71 142.46 L 379.37 148.64 L 379.70 149.58 L 380.02 146.68 L 380.35 149.70 L 380.68 150.53 L 381.01 148.75 L 381.34 149.52 L 381.67 145.26 L 382.00 154.32 L 382.33 143.78 L 382.66 148.91 L 382.99 147.04 L 383.32 145.87 L 383.65 146.88 L 383.98 145.83 L 384.64 152.44 L 384.97 147.94 L 385.30 151.57 L 385.96 145.53 L 386.29 149.87 L 386.62 148.97 L 386.95 150.19 L 387.28 148.38 L 387.61 148.15 L 387.94 151.29 L 388.26 147.93 L 388.59 150.24 L 388.92 147.42 L 389.25 148.93 L 389.58 145.78 L 389.91 146.11 L 390.24 148.01 L 390.57 148.30 L 390.90 147.12 L 391.23 145.06 L 391.56 145.78 L 391.89 147.81 L 392.22 147.48 L 392.55 144.71 L 392.88 151.85 L 393.21 147.05 L 393.54 150.28 L 393.87 145.30 L 394.20 149.43 L 394.53 148.60 L 394.86 150.79 L 395.52 146.66 L 395.85 144.73 L 396.18 151.28 L 396.50 150.66 L 396.83 139.81 L 397.16 146.44 L 397.49 148.58 L 397.82 149.74 L 398.15 154.57 L 398.48 151.92 L 398.48 151.92 " clip-path="url(#p02d3b5d28d)" style="fill: none; stroke: #2ca02c; stroke-width: 1.5; stroke-linecap: round"/>
</g>
<g id="line2d_17">
<path d="M 73.83 53.24 L 74.16 56.19 L 74.49 55.97 L 74.82 57.31 L 75.48 58.96 L 75.81 60.61 L 76.13 60.75 L 76.46 61.83 L 76.79 60.91 L 77.12 62.94 L 77.78 64.55 L 78.44 66.13 L 79.10 66.68 L 79.43 67.54 L 79.76 67.59 L 80.09 68.59 L 80.42 69.01 L 80.75 68.86 L 81.41 70.60 L 81.74 70.90 L 82.07 71.03 L 82.40 70.87 L 82.73 72.17 L 83.06 72.54 L 83.39 72.40 L 83.72 73.53 L 84.05 73.64 L 84.37 73.50 L 85.03 74.50 L 85.36 74.58 L 85.69 76.37 L 86.02 75.14 L 86.35 76.30 L 86.68 76.93 L 87.01 76.47 L 87.34 76.63 L 88.00 77.99 L 88.33 77.85 L 88.66 78.19 L 88.99 77.90 L 89.65 78.99 L 89.98 78.90 L 90.64 80.30 L 90.97 79.96 L 91.30 80.23 L 91.96 81.33 L 92.29 81.17 L 92.61 82.54 L 92.94 81.49 L 93.27 81.82 L 93.60 82.93 L 93.93 82.47 L 94.26 83.13 L 94.59 82.66 L 94.92 84.03 L 95.25 83.80 L 95.58 83.36 L 95.91 83.40 L 96.24 84.96 L 96.57 84.46 L 96.90 84.29 L 97.23 84.85 L 97.56 84.12 L 97.89 85.42 L 98.22 84.95 L 98.55 85.69 L 98.88 84.85 L 99.21 85.59 L 99.54 85.90 L 99.87 86.60 L 100.20 85.37 L 100.53 85.90 L 100.85 86.05 L 101.18 86.04 L 102.17 87.26 L 102.50 87.40 L 102.83 86.65 L 103.16 87.95 L 103.49 87.73 L 103.82 87.76 L 104.48 87.65 L 104.81 88.53 L 105.14 88.85 L 105.80 87.89 L 106.79 88.89 L 107.12 88.76 L 107.45 89.09 L 107.78 88.78 L 108.11 89.55 L 108.44 89.30 L 108.77 89.57 L 109.09 89.47 L 109.42 89.77 L 109.75 88.99 L 110.08 89.59 L 110.41 89.75 L 110.74 91.36 L 111.07 90.83 L 111.40 91.10 L 111.73 90.79 L 112.06 92.10 L 112.39 90.85 L 112.72 91.05 L 113.05 92.17 L 113.71 92.27 L 114.37 91.99 L 114.70 91.56 L 115.03 92.63 L 115.36 92.38 L 115.69 92.78 L 116.02 92.26 L 116.35 92.83 L 116.68 92.71 L 117.01 93.86 L 117.33 93.63 L 117.66 94.03 L 117.99 93.22 L 118.65 94.24 L 118.98 94.43 L 119.31 94.19 L 119.64 94.80 L 119.97 95.00 L 120.30 94.53 L 120.63 93.82 L 120.96 95.04 L 121.95 95.79 L 122.28 95.13 L 122.61 95.10 L 122.94 95.54 L 123.27 95.51 L 123.93 95.79 L 124.26 96.57 L 124.59 96.23 L 124.92 96.09 L 125.25 96.55 L 125.57 96.52 L 125.90 96.76 L 126.23 96.65 L 126.56 96.26 L 126.89 96.87 L 127.22 96.86 L 127.55 96.56 L 127.88 96.72 L 128.21 96.38 L 128.54 98.02 L 128.87 96.90 L 129.20 97.54 L 130.19 97.17 L 130.52 97.27 L 130.85 97.72 L 131.18 97.21 L 131.51 98.07 L 131.84 98.10 L 132.17 97.80 L 132.50 98.44 L 132.83 97.42 L 133.16 97.97 L 133.49 97.58 L 133.81 98.56 L 134.14 98.79 L 134.80 98.50 L 135.13 99.11 L 135.46 98.79 L 135.79 99.03 L 136.12 98.44 L 136.45 99.45 L 136.78 98.83 L 137.11 99.59 L 137.44 99.80 L 137.77 99.77 L 138.10 100.04 L 138.76 99.27 L 139.09 99.70 L 139.42 99.59 L 139.75 99.25 L 140.08 99.88 L 140.41 99.98 L 140.74 100.24 L 141.07 100.86 L 141.40 99.96 L 141.73 101.06 L 142.05 100.14 L 142.38 100.48 L 142.71 100.09 L 143.37 101.02 L 143.70 100.61 L 144.03 101.05 L 144.69 100.94 L 145.35 101.17 L 145.68 101.50 L 146.01 101.30 L 146.34 102.16 L 146.67 101.42 L 147.00 101.91 L 147.33 101.03 L 147.66 101.03 L 147.99 102.41 L 148.32 101.62 L 148.65 101.79 L 148.98 102.23 L 149.31 101.65 L 149.96 102.72 L 150.29 102.17 L 150.95 102.14 L 151.28 102.75 L 151.61 102.05 L 151.94 102.07 L 152.27 102.90 L 152.93 102.58 L 153.26 102.84 L 153.59 101.96 L 154.25 103.20 L 154.58 103.17 L 154.91 102.93 L 155.24 102.03 L 155.57 103.10 L 156.23 102.93 L 156.56 103.22 L 156.89 102.33 L 157.22 103.54 L 157.55 103.07 L 157.88 103.37 L 158.20 103.24 L 158.53 104.03 L 158.86 102.88 L 159.19 103.71 L 159.52 103.70 L 159.85 104.16 L 160.18 104.13 L 160.51 103.65 L 160.84 103.54 L 161.17 103.69 L 161.50 103.56 L 162.16 104.15 L 162.49 103.87 L 162.82 104.03 L 163.15 104.36 L 163.81 103.91 L 164.47 104.68 L 165.13 103.87 L 165.46 104.78 L 166.12 104.86 L 166.44 104.35 L 166.77 105.66 L 167.10 104.81 L 167.43 104.52 L 167.76 105.39 L 168.09 104.50 L 168.75 105.44 L 169.08 105.18 L 169.41 105.95 L 169.74 105.60 L 170.07 104.67 L 170.40 105.83 L 170.73 104.76 L 171.06 105.60 L 171.39 105.21 L 171.72 105.65 L 172.05 106.63 L 172.38 106.00 L 172.71 105.74 L 173.04 106.34 L 173.37 106.47 L 173.70 105.81 L 174.36 106.75 L 174.68 106.39 L 175.01 105.80 L 175.34 106.40 L 175.67 105.87 L 176.00 105.67 L 176.66 106.86 L 176.99 106.97 L 177.65 106.17 L 177.98 106.47 L 178.31 106.40 L 178.64 106.86 L 178.97 106.60 L 179.30 106.96 L 179.63 106.95 L 179.96 107.39 L 180.29 107.55 L 180.62 107.15 L 180.95 107.45 L 181.28 107.43 L 181.61 106.81 L 181.94 107.18 L 182.27 105.98 L 182.92 107.53 L 183.25 106.99 L 183.58 107.21 L 183.91 107.68 L 184.24 106.99 L 184.90 108.78 L 185.23 107.25 L 185.56 107.87 L 185.89 107.06 L 186.22 107.97 L 186.55 108.23 L 186.88 107.16 L 187.21 108.28 L 187.87 107.33 L 188.20 107.92 L 188.53 108.04 L 188.86 108.01 L 189.19 107.75 L 189.52 108.47 L 189.85 107.93 L 190.18 107.98 L 190.51 107.31 L 190.84 108.44 L 191.16 108.72 L 191.49 108.08 L 191.82 108.59 L 192.15 108.35 L 192.48 108.46 L 192.81 108.07 L 193.14 108.86 L 193.47 108.67 L 193.80 109.72 L 194.13 109.08 L 194.46 108.13 L 194.79 109.07 L 195.12 109.12 L 195.45 109.38 L 195.78 108.68 L 196.11 108.88 L 196.44 109.48 L 196.77 108.76 L 197.10 108.97 L 197.43 108.81 L 197.76 109.42 L 198.09 108.48 L 198.42 109.07 L 199.08 109.53 L 199.40 109.45 L 199.73 109.04 L 200.06 109.54 L 200.39 109.03 L 200.72 109.27 L 201.05 109.00 L 201.71 109.66 L 202.04 110.46 L 202.37 109.59 L 202.70 109.43 L 203.03 109.73 L 203.36 109.61 L 203.69 110.07 L 204.02 110.08 L 204.35 110.35 L 204.68 109.44 L 205.01 109.98 L 205.67 110.67 L 206.33 109.61 L 206.99 110.58 L 207.32 109.74 L 207.64 109.78 L 208.30 110.12 L 208.63 110.01 L 208.96 110.30 L 209.29 110.24 L 209.62 110.92 L 209.95 110.02 L 210.28 110.58 L 210.61 109.88 L 210.94 111.59 L 211.27 110.50 L 211.60 110.43 L 211.93 111.01 L 212.26 110.72 L 212.59 110.64 L 212.92 110.75 L 213.25 111.24 L 213.58 111.12 L 213.91 110.68 L 214.24 110.61 L 214.57 111.13 L 215.23 111.16 L 215.56 110.86 L 215.88 111.75 L 216.21 111.90 L 216.54 111.35 L 216.87 111.89 L 217.86 111.35 L 218.19 112.02 L 218.52 111.29 L 218.85 112.38 L 219.18 111.47 L 219.51 112.37 L 219.84 112.29 L 220.17 111.54 L 220.50 112.00 L 220.83 112.20 L 221.16 112.09 L 221.49 111.75 L 221.82 112.00 L 222.15 112.03 L 222.48 111.62 L 222.81 112.38 L 223.14 112.32 L 223.47 112.37 L 223.80 111.72 L 224.12 111.82 L 224.45 111.74 L 224.78 112.31 L 225.11 112.40 L 225.44 112.02 L 225.77 112.57 L 226.10 112.10 L 226.43 112.18 L 226.76 112.80 L 227.09 112.58 L 227.42 112.63 L 227.75 111.91 L 228.08 111.59 L 228.41 112.73 L 228.74 112.71 L 229.07 113.69 L 229.40 112.70 L 229.73 112.82 L 230.06 113.29 L 230.39 112.57 L 230.72 113.56 L 231.05 113.05 L 231.38 112.93 L 231.71 113.54 L 232.04 112.71 L 232.36 112.66 L 232.69 113.69 L 233.02 113.74 L 233.35 112.95 L 233.68 113.24 L 234.01 113.76 L 234.34 113.41 L 235.00 113.42 L 235.33 113.05 L 235.66 113.27 L 235.99 112.73 L 236.65 113.25 L 237.31 113.05 L 237.64 113.33 L 237.97 114.16 L 238.30 113.33 L 238.63 113.69 L 238.96 113.09 L 239.29 113.74 L 239.62 113.60 L 239.95 113.71 L 240.27 113.19 L 240.60 113.84 L 240.93 114.05 L 241.26 113.85 L 241.59 114.19 L 241.92 113.97 L 242.25 114.07 L 242.58 113.99 L 242.91 113.35 L 243.24 114.33 L 243.57 114.18 L 243.90 114.31 L 244.23 113.98 L 244.56 114.77 L 245.55 114.16 L 246.21 114.65 L 246.54 114.83 L 247.20 113.95 L 247.53 114.44 L 247.86 114.52 L 248.19 114.45 L 248.51 115.05 L 248.84 114.82 L 249.17 114.83 L 249.50 114.63 L 249.83 114.80 L 250.16 115.31 L 250.49 114.38 L 250.82 114.18 L 251.15 115.01 L 251.48 114.77 L 251.81 114.86 L 252.14 114.67 L 252.47 115.63 L 252.80 114.39 L 253.13 115.28 L 253.46 114.60 L 253.79 115.11 L 254.12 115.33 L 254.45 115.26 L 254.78 114.87 L 255.11 115.62 L 255.44 115.45 L 255.77 115.52 L 256.10 116.05 L 256.43 114.85 L 257.08 115.45 L 257.41 114.99 L 257.74 115.89 L 258.07 115.56 L 258.40 114.85 L 258.73 115.18 L 259.06 116.52 L 259.39 117.01 L 260.05 115.26 L 260.38 115.92 L 260.71 115.85 L 261.04 115.54 L 261.37 116.18 L 261.70 115.75 L 262.03 115.55 L 262.69 115.77 L 263.02 116.20 L 263.35 115.77 L 263.68 116.19 L 264.34 115.02 L 264.67 116.40 L 264.99 117.01 L 265.32 116.33 L 265.98 115.78 L 266.31 115.79 L 266.64 116.58 L 266.97 116.61 L 267.30 115.80 L 267.63 116.79 L 267.96 115.92 L 268.29 116.48 L 268.62 116.10 L 269.61 116.15 L 269.94 116.92 L 270.27 116.42 L 270.60 116.56 L 270.93 116.46 L 271.26 116.11 L 271.59 116.75 L 271.92 116.95 L 272.25 116.98 L 272.58 116.84 L 272.91 116.43 L 273.23 117.09 L 273.56 116.31 L 274.55 117.40 L 274.88 116.78 L 275.21 116.62 L 275.54 117.65 L 275.87 116.46 L 276.20 116.30 L 276.53 116.86 L 276.86 116.82 L 277.19 116.06 L 277.52 116.56 L 277.85 117.46 L 278.18 117.12 L 278.84 117.23 L 279.17 118.15 L 279.50 116.90 L 279.83 117.49 L 280.16 117.19 L 280.49 117.34 L 280.82 116.95 L 281.15 117.45 L 281.47 117.68 L 282.13 116.82 L 282.46 117.55 L 282.79 116.88 L 283.45 117.71 L 283.78 116.89 L 284.11 117.87 L 284.44 117.14 L 284.77 117.79 L 285.10 117.42 L 285.43 118.13 L 285.76 117.99 L 286.09 117.24 L 286.42 117.62 L 286.75 117.70 L 287.08 117.92 L 287.41 117.58 L 287.74 118.36 L 288.07 118.27 L 288.40 117.90 L 288.73 118.20 L 289.06 118.16 L 289.39 117.93 L 290.04 118.04 L 290.37 117.28 L 290.70 117.57 L 291.03 117.51 L 291.36 118.04 L 291.69 118.26 L 292.02 118.67 L 292.35 118.24 L 292.68 118.98 L 293.34 117.85 L 293.67 117.52 L 294.00 117.81 L 294.33 118.58 L 294.66 118.05 L 294.99 118.60 L 295.32 117.96 L 295.65 118.37 L 295.98 117.99 L 296.31 117.31 L 296.64 118.01 L 296.97 117.45 L 297.30 118.36 L 297.63 118.58 L 297.95 117.93 L 298.28 117.79 L 298.61 118.74 L 298.94 118.50 L 299.27 119.14 L 299.93 118.24 L 300.26 118.66 L 300.59 118.88 L 300.92 119.24 L 301.25 118.54 L 301.58 118.38 L 302.24 118.65 L 302.57 119.29 L 302.90 118.07 L 303.23 118.84 L 303.56 118.89 L 303.89 118.56 L 304.22 119.76 L 304.55 118.92 L 304.88 118.97 L 305.21 118.79 L 305.54 118.41 L 305.87 118.79 L 306.19 119.75 L 306.52 119.16 L 306.85 118.96 L 307.18 119.00 L 307.51 119.61 L 307.84 119.79 L 308.17 118.90 L 308.83 119.18 L 309.16 119.89 L 309.49 118.48 L 309.82 120.42 L 310.48 118.41 L 310.81 119.36 L 311.14 119.22 L 311.47 119.81 L 311.80 118.80 L 312.13 119.90 L 312.46 119.29 L 312.79 119.36 L 313.12 119.86 L 313.45 119.09 L 313.78 120.05 L 314.43 119.53 L 314.76 119.70 L 315.09 119.36 L 315.42 119.20 L 315.75 119.72 L 316.41 119.85 L 316.74 119.80 L 317.07 119.34 L 317.40 119.78 L 317.73 119.55 L 318.39 120.10 L 318.72 119.42 L 319.05 120.22 L 319.38 119.81 L 319.71 119.22 L 320.04 120.30 L 320.37 119.90 L 320.70 120.54 L 321.03 120.12 L 321.36 120.54 L 321.69 120.10 L 322.02 120.19 L 322.35 119.94 L 322.67 119.36 L 323.00 119.91 L 323.33 119.78 L 323.66 120.09 L 323.99 120.19 L 324.32 120.45 L 324.65 120.86 L 325.31 119.50 L 325.97 120.42 L 326.30 119.55 L 326.63 120.42 L 326.96 120.51 L 327.29 120.78 L 327.62 120.69 L 327.95 120.42 L 328.28 119.52 L 328.61 120.44 L 328.94 120.80 L 329.60 120.51 L 329.93 121.13 L 330.26 120.40 L 330.58 120.18 L 330.91 120.36 L 331.24 120.26 L 331.57 121.06 L 331.90 121.24 L 332.23 120.04 L 332.56 120.14 L 332.89 121.23 L 333.22 120.54 L 333.55 120.64 L 333.88 120.45 L 334.21 120.61 L 334.54 120.92 L 334.87 120.66 L 335.53 120.80 L 336.19 122.05 L 336.52 121.17 L 336.85 121.54 L 337.18 120.79 L 337.51 120.62 L 338.17 121.11 L 338.50 120.95 L 338.82 120.53 L 339.15 121.33 L 339.48 120.67 L 340.14 120.99 L 340.47 120.52 L 340.80 121.43 L 341.13 120.77 L 341.46 121.56 L 341.79 121.52 L 342.12 121.66 L 342.45 121.06 L 342.78 121.65 L 343.11 121.27 L 343.44 121.78 L 343.77 120.90 L 344.10 120.60 L 344.43 121.28 L 344.76 120.72 L 345.09 121.19 L 345.42 120.55 L 346.08 122.13 L 346.41 120.89 L 346.74 121.58 L 347.06 121.97 L 347.39 121.84 L 347.72 122.26 L 348.05 121.68 L 348.38 122.07 L 348.71 121.05 L 349.04 121.40 L 349.37 122.38 L 349.70 122.34 L 350.03 121.97 L 350.36 122.55 L 350.69 121.83 L 351.02 121.82 L 351.35 122.14 L 351.68 122.07 L 352.34 121.30 L 352.67 121.30 L 353.00 121.91 L 353.33 121.60 L 353.66 122.27 L 353.99 121.82 L 354.32 122.41 L 354.65 121.73 L 354.98 122.56 L 355.30 122.47 L 355.96 121.89 L 356.29 122.73 L 356.95 122.12 L 357.28 122.11 L 357.61 122.56 L 357.94 122.20 L 358.27 122.37 L 358.60 121.71 L 358.93 122.07 L 359.26 122.86 L 359.59 123.24 L 359.92 122.32 L 360.25 121.90 L 360.58 122.33 L 360.91 122.06 L 361.57 123.02 L 361.90 122.18 L 362.23 122.47 L 362.56 122.25 L 362.89 123.11 L 363.22 122.49 L 363.54 122.84 L 363.87 122.28 L 364.20 122.86 L 364.86 122.91 L 365.19 122.17 L 365.85 123.04 L 366.51 123.20 L 366.84 122.19 L 367.17 123.55 L 367.50 123.18 L 367.83 122.59 L 368.16 122.39 L 368.49 122.95 L 368.82 122.59 L 369.48 122.54 L 369.81 122.95 L 370.14 122.31 L 370.47 122.92 L 370.80 122.39 L 371.13 123.49 L 371.46 122.67 L 371.78 123.59 L 372.11 123.71 L 372.44 122.91 L 372.77 123.47 L 373.10 122.97 L 373.43 123.61 L 373.76 122.53 L 374.42 123.69 L 374.75 123.17 L 375.08 122.90 L 375.41 123.60 L 376.07 122.48 L 376.73 123.36 L 377.06 123.61 L 377.39 123.16 L 378.05 124.68 L 378.38 123.72 L 378.71 123.91 L 379.04 122.78 L 379.70 123.93 L 380.02 124.02 L 380.35 123.36 L 380.68 123.92 L 382.00 123.62 L 382.33 123.63 L 382.66 123.16 L 382.99 123.02 L 383.32 124.41 L 383.65 122.70 L 383.98 123.72 L 384.31 123.28 L 384.64 124.11 L 384.97 123.69 L 385.63 123.82 L 385.96 123.53 L 386.29 123.64 L 386.62 124.33 L 387.28 123.66 L 387.61 123.69 L 387.94 124.13 L 388.59 124.09 L 388.92 124.50 L 389.25 124.59 L 389.58 123.44 L 389.91 124.27 L 390.24 124.08 L 390.57 124.45 L 390.90 123.63 L 391.23 123.46 L 391.56 124.29 L 391.89 124.00 L 392.22 124.54 L 392.55 123.53 L 392.88 123.89 L 393.21 124.63 L 393.54 123.80 L 393.87 124.18 L 394.53 124.22 L 394.86 124.65 L 395.19 124.62 L 395.52 124.16 L 396.18 124.84 L 396.50 123.64 L 396.83 124.58 L 397.49 124.81 L 397.82 124.26 L 398.15 124.16 L 398.48 124.48 L 398.48 124.48 " clip-path="url(#p02d3b5d28d)" style="fill: none; stroke: #d62728; stroke-width: 1.5; stroke-linecap: round"/>
</g>
<g id="patch_3">
<path transform="translate(0.192 0.168)" d="M 57.6 307.58 L 57.6 41.47 " style="fill: none; stroke: #cccccc; stroke-width: 0.8; stroke-linejoin: miter; stroke-linecap: square"/>
</g>
<g id="patch_4">
<path transform="translate(0.192 0.168)" d="M 414.72 307.58 L 414.72 41.47 " style="fill: none; stroke: #cccccc; stroke-width: 0.8; stroke-linejoin: miter; stroke-linecap: square"/>
</g>
<g id="patch_5">
<path transform="translate(0.192 0.168)" d="M 57.6 307.58 L 414.72 307.58 " style="fill: none; stroke: #cccccc; stroke-width: 0.8; stroke-linejoin: miter; stroke-linecap: square"/>
</g>
<g id="patch_6">
<path transform="translate(0.192 0.168)" d="M 57.6 41.47 L 414.72 41.47 " style="fill: none; stroke: #cccccc; stroke-width: 0.8; stroke-linejoin: miter; stroke-linecap: square"/>
</g>
<g id="text_9">
<text style="font-size: 12px; font-family: 'Liberation Sans', sans-serif; text-anchor: middle; fill: #262626" x="236.16" y="35.47" transform="rotate(-0 236.16 35.47)">Convergence Comparison</text>
</g>
<g id="legend_1">
<g id="patch_7">
<path transform="translate(0.192 0.168)" d="M 356.82 120.04 L 407.72 120.04 Q 409.72 120.04 409.72 118.04 L 409.72 48.47 Q 409.72 46.47 407.72 46.47 L 356.82 46.47 Q 354.82 46.47 354.82 48.47 L 354.82 118.04 Q 354.82 120.04 356.82 120.04 z
" style="fill: #ffffff; opacity: 0.8; stroke: #cccccc; stroke-linejoin: miter"/>
</g>
<g id="text_10">
<text style="font-size: 10px; font-family: 'Liberation Sans', sans-serif; text-anchor: start; fill: #262626" x="362.54" y="57.71" transform="rotate(-0 362.54 57.71)">Columns</text>
</g>
<g id="line2d_18">
<path d="M 358.82 68.28 L 368.82 68.28 L 378.82 68.28 " style="fill: none; stroke: #1f77b4; stroke-width: 1.5; stroke-linecap: round"/>
</g>
<g id="text_11">
<text style="font-size: 10px; font-family: 'Liberation Sans', sans-serif; text-anchor: start; fill: #262626" x="386.82" y="71.78" transform="rotate(-0 386.82 71.78)">bfw</text>
</g>
<g id="line2d_19">
<path d="M 358.82 82.34 L 368.82 82.34 L 378.82 82.34 " style="fill: none; stroke: #ff7f0e; stroke-width: 1.5; stroke-linecap: round"/>
</g>
<g id="text_12">
<text style="font-size: 10px; font-family: 'Liberation Sans', sans-serif; text-anchor: start; fill: #262626" x="386.82" y="85.84" transform="rotate(-0 386.82 85.84)">cfw</text>
</g>
<g id="line2d_20">
<path d="M 358.82 96.40 L 368.82 96.40 L 378.82 96.40 " style="fill: none; stroke: #2ca02c; stroke-width: 1.5; stroke-linecap: round"/>
</g>
<g id="text_13">
<text style="font-size: 10px; font-family: 'Liberation Sans', sans-serif; text-anchor: start; fill: #262626" x="386.82" y="99.90" transform="rotate(-0 386.82 99.90)">fw</text>
</g>
<g id="line2d_21">
<path d="M 358.82 110.46 L 368.82 110.46 L 378.82 110.46 " style="fill: none; stroke: #d62728; stroke-width: 1.5; stroke-linecap: round"/>
</g>
<g id="text_14">
<text style="font-size: 10px; font-family: 'Liberation Sans', sans-serif; text-anchor: start; fill: #262626" x="386.82" y="113.96" transform="rotate(-0 386.82 113.96)">msa</text>
</g>
</g>
</g>
</g>
<defs>
<clipPath id="p02d3b5d28d">
<rect x="57.6" y="41.47" width="357.12" height="266.11"/>
</clipPath>
</defs>
<g transform="scale(0.24)" style="fill:#262626;font-family:'Liberation Sans',Arial,sans-serif">
<text x="130.30" y="315.50" style="font-size:41.67px">10</text>
<text x="177.30" y="286.80" style="font-size:31.00px">−2</text>
<text x="130.30" y="470.53" style="font-size:41.67px">10</text>
<text x="177.30" y="441.83" style="font-size:31.00px">−3</text>
<text x="130.30" y="625.56" style="font-size:41.67px">10</text>
<text x="177.30" y="596.86" style="font-size:31.00px">−4</text>
<text x="130.30" y="780.59" style="font-size:41.67px">10</text>
<text x="177.30" y="751.89" style="font-size:31.00px">−5</text>
<text x="130.30" y="935.62" style="font-size:41.67px">10</text>
<text x="177.30" y="906.92" style="font-size:31.00px">−6</text>
<text x="130.30" y="1090.65" style="font-size:41.67px">10</text>
<text x="177.30" y="1061.95" style="font-size:31.00px">−7</text>
<text x="130.30" y="1245.68" style="font-size:41.67px">10</text>
<text x="177.30" y="1216.98" style="font-size:31.00px">−8</text>
</g>
</svg>

</body></html>
